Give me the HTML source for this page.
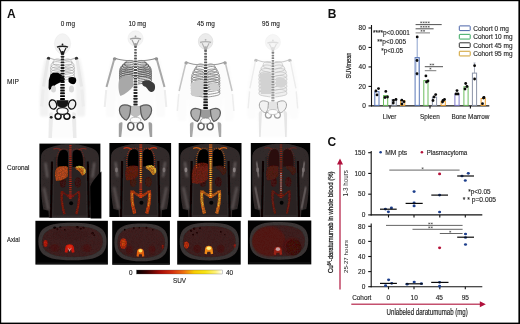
<!DOCTYPE html><html><head><meta charset="utf-8"><style>
html,body{margin:0;padding:0;background:#fff;overflow:hidden;width:520px;height:324px;}
svg{display:block;font-family:"Liberation Sans", sans-serif;will-change:transform;}
</style></head><body>
<svg width="520" height="324" viewBox="0 0 520 324">
<defs>
<filter id="b03" filterUnits="userSpaceOnUse" x="-100" y="-100" width="800" height="600"><feGaussianBlur stdDeviation="0.3"/></filter>
<filter id="b05" filterUnits="userSpaceOnUse" x="-100" y="-100" width="800" height="600"><feGaussianBlur stdDeviation="0.5"/></filter>
<filter id="b08" filterUnits="userSpaceOnUse" x="-100" y="-100" width="800" height="600"><feGaussianBlur stdDeviation="0.8"/></filter>
<filter id="b12" filterUnits="userSpaceOnUse" x="-100" y="-100" width="800" height="600"><feGaussianBlur stdDeviation="1.2"/></filter>
<filter id="b2" filterUnits="userSpaceOnUse" x="-100" y="-100" width="800" height="600"><feGaussianBlur stdDeviation="2"/></filter>
<filter id="ptex" filterUnits="userSpaceOnUse" x="-100" y="-100" width="800" height="600">
<feGaussianBlur in="SourceGraphic" stdDeviation="0.7" result="bl"/>
<feTurbulence type="fractalNoise" baseFrequency="0.7" numOctaves="2" seed="5" result="n"/>
<feColorMatrix in="n" type="matrix" values="0 0 0 0 0  0 0 0 0 0  0 0 0 0 0  2.2 0 0 0 -0.75" result="mask"/>
<feComposite in="bl" in2="mask" operator="in" result="sp"/>
<feComponentTransfer in="bl" result="dim"><feFuncA type="linear" slope="0.6"/></feComponentTransfer>
<feMerge><feMergeNode in="dim"/><feMergeNode in="sp"/></feMerge>
</filter>
<filter id="btex" filterUnits="userSpaceOnUse" x="-100" y="-100" width="800" height="600">
<feGaussianBlur in="SourceGraphic" stdDeviation="0.5" result="bl"/>
<feTurbulence type="fractalNoise" baseFrequency="0.6" numOctaves="2" seed="11" result="n"/>
<feColorMatrix in="n" type="matrix" values="0 0 0 0 0  0 0 0 0 0  0 0 0 0 0  1.2 0 0 0 -0.45" result="mask"/>
<feComposite in="SourceGraphic" in2="mask" operator="in" result="sp0"/>
<feColorMatrix in="sp0" type="matrix" values="0.6 0 0 0 0  0 0.6 0 0 0  0 0 0.6 0 0  0 0 0 0.5 0" result="sp"/>
<feMerge><feMergeNode in="bl"/><feMergeNode in="sp"/></feMerge>
</filter>
<linearGradient id="cb" x1="0" x2="1" y1="0" y2="0">
<stop offset="0" stop-color="#000"/>
<stop offset="0.12" stop-color="#3a0000"/>
<stop offset="0.28" stop-color="#a80c06"/>
<stop offset="0.42" stop-color="#d4300e"/>
<stop offset="0.55" stop-color="#ee7010"/>
<stop offset="0.67" stop-color="#f8cc00"/>
<stop offset="0.8" stop-color="#f8e414"/>
<stop offset="0.92" stop-color="#fff27a"/>
<stop offset="1" stop-color="#ffffff"/>
</linearGradient>
</defs>
<rect x="0" y="0" width="520" height="324" fill="#fff"/>
<text x="6.9" y="17.7" font-size="12" text-anchor="start" font-weight="bold" fill="#111" >A</text>
<text x="67.9" y="26.2" font-size="6.4" text-anchor="middle" font-weight="normal" fill="#222" stroke="#222" stroke-width="0.12" >0 mg</text>
<text x="137.3" y="26.2" font-size="6.4" text-anchor="middle" font-weight="normal" fill="#222" stroke="#222" stroke-width="0.12" >10 mg</text>
<text x="205.9" y="26.2" font-size="6.4" text-anchor="middle" font-weight="normal" fill="#222" stroke="#222" stroke-width="0.12" >45 mg</text>
<text x="271" y="26.2" font-size="6.4" text-anchor="middle" font-weight="normal" fill="#222" stroke="#222" stroke-width="0.12" >95 mg</text>
<text x="7.1" y="84.2" font-size="6.6" text-anchor="start" font-weight="normal" fill="#222" stroke="#222" stroke-width="0.12" >MIP</text>
<text x="7.1" y="169.8" font-size="6.4" text-anchor="start" font-weight="normal" fill="#222" stroke="#222" stroke-width="0.12" >Coronal</text>
<text x="7.1" y="241.9" font-size="6.35" text-anchor="start" font-weight="normal" fill="#222" stroke="#222" stroke-width="0.12" textLength="12.7" lengthAdjust="spacingAndGlyphs">Axial</text>
<g filter="url(#b12)">
<path d="M45.5 57.5 C39.5 78.5 38.5 103.5 40.5 116.5 L48.5 116.5 L51.5 68.5 Z" fill="#f2f2f2"/>
<path d="M79.5 57.5 C85.5 78.5 86.5 103.5 84.5 116.5 L76.5 116.5 L73.5 68.5 Z" fill="#f2f2f2"/>
<path d="M49.5 58.5 L75.5 58.5 L76.5 111.8 L74.5 138 L50.5 138 L48.5 111.8 Z" fill="#fcfcfc"/>
</g>
<g filter="url(#b05)">
<ellipse cx="62.5" cy="43.85" rx="8" ry="10.149999999999999" fill="#f3f3f3" stroke="#ececec" stroke-width="0.7"/>
<rect x="61.3" y="52" width="2.4" height="2" fill="#666"/>
<path d="M61.0 60.0 C57.3 57.8 53.0 59.2 53.0 63.0 C53.0 65.0 56.8 65.5 60.0 66.5" stroke="#999" stroke-width="0.6" fill="none"/>
<path d="M64.0 60.0 C67.7 57.8 72.0 59.2 72.0 63.0 C72.0 65.0 68.2 65.5 65.0 66.5" stroke="#999" stroke-width="0.6" fill="none"/>
<path d="M61.0 62.7 C56.2 60.5 51.0 61.9 51.0 65.7 C51.0 67.7 55.6 68.2 60.0 69.2" stroke="#999" stroke-width="0.6" fill="none"/>
<path d="M64.0 62.7 C68.8 60.5 74.0 61.9 74.0 65.7 C74.0 67.7 69.4 68.2 65.0 69.2" stroke="#999" stroke-width="0.6" fill="none"/>
<path d="M61.0 65.4 C55.9 63.2 50.5 64.6 50.5 68.4 C50.5 70.4 55.3 70.9 60.0 71.9" stroke="#999" stroke-width="0.6" fill="none"/>
<path d="M64.0 65.4 C69.1 63.2 74.5 64.6 74.5 68.4 C74.5 70.4 69.7 70.9 65.0 71.9" stroke="#999" stroke-width="0.6" fill="none"/>
<path d="M61.0 68.1 C55.9 65.9 50.5 67.3 50.5 71.1 C50.5 73.1 55.3 73.6 60.0 74.6" stroke="#999" stroke-width="0.6" fill="none"/>
<path d="M64.0 68.1 C69.1 65.9 74.5 67.3 74.5 71.1 C74.5 73.1 69.7 73.6 65.0 74.6" stroke="#999" stroke-width="0.6" fill="none"/>
<path d="M61.0 70.8 C55.9 68.6 50.5 70.0 50.5 73.8 C50.5 75.8 55.3 76.3 60.0 77.3" stroke="#999" stroke-width="0.6" fill="none"/>
<path d="M64.0 70.8 C69.1 68.6 74.5 70.0 74.5 73.8 C74.5 75.8 69.7 76.3 65.0 77.3" stroke="#999" stroke-width="0.6" fill="none"/>
<path d="M61.0 73.5 C55.9 71.3 50.5 72.7 50.5 76.5 C50.5 78.5 55.3 79.0 60.0 80.0" stroke="#999" stroke-width="0.6" fill="none"/>
<path d="M64.0 73.5 C69.1 71.3 74.5 72.7 74.5 76.5 C74.5 78.5 69.7 79.0 65.0 80.0" stroke="#999" stroke-width="0.6" fill="none"/>
<path d="M50.5 74.5 L53.0 72.8 L58.0 72.8 L61.0 74.5 L64.5 78 L64.5 80.5 L61.0 82 L56.0 84.5 L52.0 88 L49.5 90.3 L48.5 88 L48.8 80 Z" fill="#000"/>
<path d="M68.5 77.8 C70.5 76.6 73.5 76.6 75.5 77.8 C76.7 79.5 76.5 82.5 74.5 84 C72.5 84.5 69.5 83.5 68.5 81.5 Z" fill="#000"/>
<ellipse cx="71.5" cy="89" rx="2.5" ry="3.5" fill="#d8d8d8"/>
<ellipse cx="53.5" cy="89" rx="2.5" ry="3.5" fill="#d8d8d8"/>
<path d="M60.5 60.5 C56.5 60.5 52.5 59.5 48.5 57.5" stroke="#bbb" stroke-width="1.1" fill="none"/>
<circle cx="48.5" cy="58.5" r="1.7" fill="#333"/>
<path d="M64.5 60.5 C68.5 60.5 72.5 59.5 76.5 57.5" stroke="#bbb" stroke-width="1.1" fill="none"/>
<circle cx="76.5" cy="58.5" r="1.7" fill="#333"/>
<path d="M48.0 59.5 L43.5 86.5" stroke="#e8e8e8" stroke-width="3" fill="none"/>
<path d="M43.2 89.5 L41.7 106.5" stroke="#ededed" stroke-width="3" fill="none"/>
<path d="M77.0 59.5 L81.5 86.5" stroke="#e8e8e8" stroke-width="3" fill="none"/>
<path d="M81.8 89.5 L83.3 106.5" stroke="#ededed" stroke-width="3" fill="none"/>
<rect x="60.90" y="53.00" width="3.20" height="1.91" rx="0.4" fill="#2a2a2a"/>
<rect x="60.85" y="55.81" width="3.31" height="1.91" rx="0.4" fill="#282828"/>
<rect x="60.79" y="58.62" width="3.41" height="1.91" rx="0.4" fill="#252525"/>
<rect x="60.74" y="61.44" width="3.52" height="1.91" rx="0.4" fill="#232323"/>
<rect x="60.69" y="64.25" width="3.62" height="1.91" rx="0.4" fill="#202020"/>
<rect x="60.64" y="67.06" width="3.73" height="1.91" rx="0.4" fill="#1e1e1e"/>
<rect x="60.58" y="69.87" width="3.84" height="1.91" rx="0.4" fill="#1b1b1b"/>
<rect x="60.53" y="72.68" width="3.94" height="1.91" rx="0.4" fill="#191919"/>
<rect x="60.48" y="75.49" width="4.05" height="1.91" rx="0.4" fill="#161616"/>
<rect x="60.42" y="78.31" width="4.15" height="1.91" rx="0.4" fill="#141414"/>
<rect x="60.37" y="81.12" width="4.26" height="1.91" rx="0.4" fill="#111111"/>
<rect x="60.32" y="83.93" width="4.36" height="1.91" rx="0.4" fill="#0f0f0f"/>
<rect x="60.26" y="86.74" width="4.47" height="1.91" rx="0.4" fill="#0c0c0c"/>
<rect x="60.21" y="89.55" width="4.58" height="1.91" rx="0.4" fill="#0a0a0a"/>
<rect x="60.16" y="92.36" width="4.68" height="1.91" rx="0.4" fill="#070707"/>
<rect x="60.11" y="95.18" width="4.79" height="1.91" rx="0.4" fill="#050505"/>
<rect x="60.05" y="97.99" width="4.89" height="1.91" rx="0.4" fill="#020202"/>
<rect x="60.00" y="100.80" width="5.00" height="1.91" rx="0.4" fill="#000000"/>
<path d="M56.5 100.3 L68.5 100.3 L67.5 105.9 L62.5 108.3 L57.5 105.9 Z" fill="#141414"/>
<ellipse cx="53.0" cy="104.5" rx="3.6" ry="4.7" transform="rotate(-18 53.0 104.5)" fill="#eeeeee" stroke="#151515" stroke-width="1.4"/>
<ellipse cx="58.1" cy="116.3" rx="3.0" ry="2.9" fill="#fdfdfd" stroke="#151515" stroke-width="1.5"/>
<path d="M52.7 112.8 C51.7 111.8 49.2 112.3 49.0 114.8 L48.45 138 L51.95 138 L52.95 118.3 Z" fill="#ebebeb"/>
<circle cx="51.2" cy="117.3" r="1.4" fill="#222"/>
<ellipse cx="72.0" cy="104.5" rx="3.6" ry="4.7" transform="rotate(18 72.0 104.5)" fill="#eeeeee" stroke="#151515" stroke-width="1.4"/>
<ellipse cx="66.9" cy="116.3" rx="3.0" ry="2.9" fill="#fdfdfd" stroke="#151515" stroke-width="1.5"/>
<path d="M72.3 112.8 C73.3 111.8 75.8 112.3 76.0 114.8 L76.55 138 L73.05 138 L72.05 118.3 Z" fill="#ebebeb"/>
<circle cx="73.8" cy="117.3" r="1.4" fill="#222"/>
<ellipse cx="62.5" cy="111" rx="5.6" ry="3.4" fill="#fdfdfd" stroke="#222" stroke-width="1.2"/>
<circle cx="62.5" cy="44.5" r="0.9" fill="#1a1a1a"/>
<path d="M57.0 47.2 C59.5 46 65.5 46 68.0 47.2" stroke="#1a1a1a" stroke-width="1.4" fill="none"/>
<path d="M59.0 48 L61.0 52 M66.0 48 L64.0 52" stroke="#1a1a1a" stroke-width="1.1" fill="none"/>
<ellipse cx="62.5" cy="52.5" rx="2" ry="1.6" fill="#1a1a1a"/>
</g>
<g filter="url(#b12)">
<path d="M111.5 58 C105.5 79 104.5 104 106.5 117 L114.5 117 L117.5 69 Z" fill="#fbfbfb"/>
<path d="M159.5 58 C165.5 79 166.5 104 164.5 117 L156.5 117 L153.5 69 Z" fill="#fbfbfb"/>
<path d="M115.5 59 L155.5 59 L153.5 117.4 L151.5 137 L119.5 137 L117.5 117.4 Z" fill="#fcfcfc"/>
</g>
<g filter="url(#b05)">
<ellipse cx="135.5" cy="38.4" rx="7.5" ry="7.6" fill="#f4f4f4" stroke="#ececec" stroke-width="0.7"/>
<rect x="134.3" y="44" width="2.4" height="3" fill="#8a8a8a"/>
<path d="M134.0 61.5 C129.5 59.3 124.6 60.7 124.6 64.5 C124.6 66.5 128.9 67.0 133.0 68.0" stroke="#4a4a4a" stroke-width="0.75" fill="none"/>
<path d="M137.0 61.5 C141.5 59.3 146.4 60.7 146.4 64.5 C146.4 66.5 142.1 67.0 138.0 68.0" stroke="#4a4a4a" stroke-width="0.75" fill="none"/>
<path d="M134.0 63.3 C128.3 61.1 122.4 62.5 122.4 66.3 C122.4 68.3 127.6 68.8 133.0 69.8" stroke="#4a4a4a" stroke-width="0.75" fill="none"/>
<path d="M137.0 63.3 C142.7 61.1 148.6 62.5 148.6 66.3 C148.6 68.3 143.4 68.8 138.0 69.8" stroke="#4a4a4a" stroke-width="0.75" fill="none"/>
<path d="M134.0 65.1 C127.4 62.9 120.7 64.3 120.7 68.1 C120.7 70.1 126.6 70.6 133.0 71.6" stroke="#4a4a4a" stroke-width="0.75" fill="none"/>
<path d="M137.0 65.1 C143.6 62.9 150.3 64.3 150.3 68.1 C150.3 70.1 144.4 70.6 138.0 71.6" stroke="#4a4a4a" stroke-width="0.75" fill="none"/>
<path d="M134.0 66.8 C126.8 64.6 119.8 66.0 119.8 69.8 C119.8 71.8 126.1 72.3 133.0 73.3" stroke="#4a4a4a" stroke-width="0.75" fill="none"/>
<path d="M137.0 66.8 C144.2 64.6 151.2 66.0 151.2 69.8 C151.2 71.8 144.9 72.3 138.0 73.3" stroke="#4a4a4a" stroke-width="0.75" fill="none"/>
<path d="M134.0 68.6 C126.7 66.4 119.5 67.8 119.5 71.6 C119.5 73.6 125.9 74.1 133.0 75.1" stroke="#4a4a4a" stroke-width="0.75" fill="none"/>
<path d="M137.0 68.6 C144.3 66.4 151.5 67.8 151.5 71.6 C151.5 73.6 145.1 74.1 138.0 75.1" stroke="#4a4a4a" stroke-width="0.75" fill="none"/>
<path d="M134.0 70.4 C126.7 68.2 119.5 69.6 119.5 73.4 C119.5 75.4 125.9 75.9 133.0 76.9" stroke="#4a4a4a" stroke-width="0.75" fill="none"/>
<path d="M137.0 70.4 C144.3 68.2 151.5 69.6 151.5 73.4 C151.5 75.4 145.1 75.9 138.0 76.9" stroke="#4a4a4a" stroke-width="0.75" fill="none"/>
<path d="M134.0 72.2 C126.7 70.0 119.5 71.4 119.5 75.2 C119.5 77.2 125.9 77.7 133.0 78.7" stroke="#4a4a4a" stroke-width="0.75" fill="none"/>
<path d="M137.0 72.2 C144.3 70.0 151.5 71.4 151.5 75.2 C151.5 77.2 145.1 77.7 138.0 78.7" stroke="#4a4a4a" stroke-width="0.75" fill="none"/>
<path d="M134.0 73.9 C126.7 71.7 119.5 73.1 119.5 76.9 C119.5 78.9 125.9 79.4 133.0 80.4" stroke="#4a4a4a" stroke-width="0.75" fill="none"/>
<path d="M137.0 73.9 C144.3 71.7 151.5 73.1 151.5 76.9 C151.5 78.9 145.1 79.4 138.0 80.4" stroke="#4a4a4a" stroke-width="0.75" fill="none"/>
<path d="M134.0 75.7 C126.7 73.5 119.5 74.9 119.5 78.7 C119.5 80.7 125.9 81.2 133.0 82.2" stroke="#4a4a4a" stroke-width="0.75" fill="none"/>
<path d="M137.0 75.7 C144.3 73.5 151.5 74.9 151.5 78.7 C151.5 80.7 145.1 81.2 138.0 82.2" stroke="#4a4a4a" stroke-width="0.75" fill="none"/>
<path d="M134.0 77.5 C126.7 75.3 119.5 76.7 119.5 80.5 C119.5 82.5 125.9 83.0 133.0 84.0" stroke="#4a4a4a" stroke-width="0.75" fill="none"/>
<path d="M137.0 77.5 C144.3 75.3 151.5 76.7 151.5 80.5 C151.5 82.5 145.1 83.0 138.0 84.0" stroke="#4a4a4a" stroke-width="0.75" fill="none"/>
<path d="M119.0 80 C121.5 76 127.5 74.5 133.0 76.5 L133.5 86 C130.5 90 125.5 94 120.5 96 C118.5 93 118.0 86 119.0 80 Z" fill="#a8a8a8"/>
<path d="M142.5 81.5 C145.5 79 151.5 80 154.5 84 C156.0 88 154.5 92.5 151.0 92 C147.5 91 147.5 87 144.5 86.5 C142.5 86 141.5 83.5 142.5 81.5 Z" fill="#3a3a3a"/>
<path d="M133.5 61 C129.5 61 118.5 60 114.5 58" stroke="#8a8a8a" stroke-width="1.1" fill="none"/>
<circle cx="114.5" cy="59" r="1.7" fill="#909090"/>
<path d="M137.5 61 C141.5 61 152.5 60 156.5 58" stroke="#8a8a8a" stroke-width="1.1" fill="none"/>
<circle cx="156.5" cy="59" r="1.7" fill="#909090"/>
<path d="M114.0 60 L106.5 87" stroke="#a8a8a8" stroke-width="2" fill="none"/>
<path d="M106.2 90 L104.7 107" stroke="#ededed" stroke-width="2" fill="none"/>
<path d="M157.0 60 L164.5 87" stroke="#a8a8a8" stroke-width="2" fill="none"/>
<path d="M164.8 90 L166.3 107" stroke="#ededed" stroke-width="2" fill="none"/>
<rect x="134.30" y="46.00" width="2.40" height="1.98" rx="0.4" fill="#606060"/>
<rect x="134.25" y="48.88" width="2.50" height="1.98" rx="0.4" fill="#5d5d5d"/>
<rect x="134.20" y="51.75" width="2.59" height="1.98" rx="0.4" fill="#595959"/>
<rect x="134.16" y="54.63" width="2.69" height="1.98" rx="0.4" fill="#565656"/>
<rect x="134.11" y="57.50" width="2.78" height="1.98" rx="0.4" fill="#535353"/>
<rect x="134.06" y="60.38" width="2.88" height="1.98" rx="0.4" fill="#4f4f4f"/>
<rect x="134.01" y="63.26" width="2.97" height="1.98" rx="0.4" fill="#4c4c4c"/>
<rect x="133.97" y="66.13" width="3.07" height="1.98" rx="0.4" fill="#494949"/>
<rect x="133.92" y="69.01" width="3.16" height="1.98" rx="0.4" fill="#454545"/>
<rect x="133.87" y="71.89" width="3.26" height="1.98" rx="0.4" fill="#424242"/>
<rect x="133.82" y="74.76" width="3.35" height="1.98" rx="0.4" fill="#3f3f3f"/>
<rect x="133.78" y="77.64" width="3.45" height="1.98" rx="0.4" fill="#3b3b3b"/>
<rect x="133.73" y="80.51" width="3.54" height="1.98" rx="0.4" fill="#383838"/>
<rect x="133.68" y="83.39" width="3.64" height="1.98" rx="0.4" fill="#353535"/>
<rect x="133.63" y="86.27" width="3.73" height="1.98" rx="0.4" fill="#313131"/>
<rect x="133.59" y="89.14" width="3.83" height="1.98" rx="0.4" fill="#2e2e2e"/>
<rect x="133.54" y="92.02" width="3.92" height="1.98" rx="0.4" fill="#2b2b2b"/>
<rect x="133.49" y="94.90" width="4.02" height="1.98" rx="0.4" fill="#272727"/>
<rect x="133.44" y="97.77" width="4.11" height="1.98" rx="0.4" fill="#242424"/>
<rect x="133.40" y="100.65" width="4.21" height="1.98" rx="0.4" fill="#212121"/>
<rect x="133.35" y="103.52" width="4.30" height="1.98" rx="0.4" fill="#1d1d1d"/>
<rect x="133.30" y="106.40" width="4.40" height="1.98" rx="0.4" fill="#1a1a1a"/>
<path d="M129.5 105.9 L141.5 105.9 L140.5 114.5 L135.5 118.0 L130.5 114.5 Z" fill="#bdbdbd"/>
<path d="M130.6 106.4 C125.0 103.9 119.4 104.4 119.4 110.3 C119.4 115.2 124.0 119.4 126.5 120.1 C130.6 116.6 130.1 112.4 130.6 106.4 Z" fill="#a6a6a6" stroke="#5a5a5a" stroke-width="1.2"/>
<ellipse cx="130.8" cy="126.3" rx="3.0" ry="3.8" fill="#fdfdfd" stroke="#5a5a5a" stroke-width="1.6"/>
<path d="M122.5 122.8 C121.5 121.8 119.0 122.3 118.8 124.8 L118.8 137 L121.2 137 L122.2 128.3 Z" fill="#a0a0a0"/>
<path d="M140.4 106.4 C146.0 103.9 151.6 104.4 151.6 110.3 C151.6 115.2 147.0 119.4 144.5 120.1 C140.4 116.6 140.9 112.4 140.4 106.4 Z" fill="#a6a6a6" stroke="#5a5a5a" stroke-width="1.2"/>
<ellipse cx="140.2" cy="126.3" rx="3.0" ry="3.8" fill="#fdfdfd" stroke="#5a5a5a" stroke-width="1.6"/>
<path d="M148.5 122.8 C149.5 121.8 152.0 122.3 152.2 124.8 L152.2 137 L149.8 137 L148.8 128.3 Z" fill="#a0a0a0"/>
<ellipse cx="135.5" cy="120" rx="5.5" ry="2.8" fill="#fdfdfd" stroke="#aaa" stroke-width="0.8"/>
<circle cx="135.5" cy="36.5" r="0.9" fill="#a0a0a0"/>
<path d="M130.0 39.2 C132.5 38 138.5 38 141.0 39.2" stroke="#a0a0a0" stroke-width="1.4" fill="none"/>
<path d="M132.0 40 L134.0 44 M139.0 40 L137.0 44" stroke="#a0a0a0" stroke-width="1.1" fill="none"/>
<ellipse cx="135.5" cy="44.5" rx="2" ry="1.6" fill="#a0a0a0"/>
</g>
<g filter="url(#b12)">
<path d="M183.1 62 C177.1 83 176.1 108 178.1 121 L186.1 121 L189.1 73 Z" fill="#fcfcfc"/>
<path d="M228.1 62 C234.1 83 235.1 108 233.1 121 L225.1 121 L222.1 73 Z" fill="#fcfcfc"/>
<path d="M187.1 63 L224.1 63 L221.9 120.9 L219.9 137 L191.29999999999998 137 L189.29999999999998 120.9 Z" fill="#fcfcfc"/>
</g>
<g filter="url(#b05)">
<ellipse cx="205.6" cy="41.45" rx="7.2" ry="7.849999999999998" fill="#ebebeb" stroke="#dcdcdc" stroke-width="0.7"/>
<rect x="204.4" y="47.3" width="2.4" height="3.700000000000003" fill="#8a8a8a"/>
<path d="M204.1 65.0 C200.3 62.8 196.0 64.2 196.0 68.0 C196.0 70.0 199.9 70.5 203.1 71.5" stroke="#6a6a6a" stroke-width="0.7" fill="none"/>
<path d="M207.1 65.0 C210.9 62.8 215.2 64.2 215.2 68.0 C215.2 70.0 211.3 70.5 208.1 71.5" stroke="#6a6a6a" stroke-width="0.7" fill="none"/>
<path d="M204.1 67.5 C199.4 65.3 194.2 66.8 194.2 70.5 C194.2 72.5 198.8 73.0 203.1 74.0" stroke="#6a6a6a" stroke-width="0.7" fill="none"/>
<path d="M207.1 67.5 C211.8 65.3 217.0 66.8 217.0 70.5 C217.0 72.5 212.4 73.0 208.1 74.0" stroke="#6a6a6a" stroke-width="0.7" fill="none"/>
<path d="M204.1 70.1 C198.6 67.9 192.8 69.3 192.8 73.1 C192.8 75.1 197.9 75.6 203.1 76.6" stroke="#6a6a6a" stroke-width="0.7" fill="none"/>
<path d="M207.1 70.1 C212.6 67.9 218.4 69.3 218.4 73.1 C218.4 75.1 213.3 75.6 208.1 76.6" stroke="#6a6a6a" stroke-width="0.7" fill="none"/>
<path d="M204.1 72.7 C198.0 70.5 191.8 71.9 191.8 75.7 C191.8 77.7 197.3 78.2 203.1 79.2" stroke="#6a6a6a" stroke-width="0.7" fill="none"/>
<path d="M207.1 72.7 C213.2 70.5 219.4 71.9 219.4 75.7 C219.4 77.7 213.9 78.2 208.1 79.2" stroke="#6a6a6a" stroke-width="0.7" fill="none"/>
<path d="M204.1 75.2 C197.7 73.0 191.3 74.4 191.3 78.2 C191.3 80.2 197.0 80.7 203.1 81.7" stroke="#6a6a6a" stroke-width="0.7" fill="none"/>
<path d="M207.1 75.2 C213.5 73.0 219.9 74.4 219.9 78.2 C219.9 80.2 214.2 80.7 208.1 81.7" stroke="#6a6a6a" stroke-width="0.7" fill="none"/>
<path d="M204.1 77.8 C197.7 75.5 191.3 77.0 191.3 80.8 C191.3 82.8 197.0 83.2 203.1 84.2" stroke="#6a6a6a" stroke-width="0.7" fill="none"/>
<path d="M207.1 77.8 C213.5 75.5 219.9 77.0 219.9 80.8 C219.9 82.8 214.2 83.2 208.1 84.2" stroke="#6a6a6a" stroke-width="0.7" fill="none"/>
<path d="M204.1 80.3 C197.7 78.1 191.3 79.5 191.3 83.3 C191.3 85.3 197.0 85.8 203.1 86.8" stroke="#6a6a6a" stroke-width="0.7" fill="none"/>
<path d="M207.1 80.3 C213.5 78.1 219.9 79.5 219.9 83.3 C219.9 85.3 214.2 85.8 208.1 86.8" stroke="#6a6a6a" stroke-width="0.7" fill="none"/>
<path d="M204.1 82.8 C197.7 80.6 191.3 82.0 191.3 85.8 C191.3 87.8 197.0 88.3 203.1 89.3" stroke="#6a6a6a" stroke-width="0.7" fill="none"/>
<path d="M207.1 82.8 C213.5 80.6 219.9 82.0 219.9 85.8 C219.9 87.8 214.2 88.3 208.1 89.3" stroke="#6a6a6a" stroke-width="0.7" fill="none"/>
<path d="M204.1 85.4 C197.7 83.2 191.3 84.6 191.3 88.4 C191.3 90.4 197.0 90.9 203.1 91.9" stroke="#6a6a6a" stroke-width="0.7" fill="none"/>
<path d="M207.1 85.4 C213.5 83.2 219.9 84.6 219.9 88.4 C219.9 90.4 214.2 90.9 208.1 91.9" stroke="#6a6a6a" stroke-width="0.7" fill="none"/>
<path d="M204.1 88.0 C197.7 85.8 191.3 87.2 191.3 91.0 C191.3 93.0 197.0 93.5 203.1 94.5" stroke="#6a6a6a" stroke-width="0.7" fill="none"/>
<path d="M207.1 88.0 C213.5 85.8 219.9 87.2 219.9 91.0 C219.9 93.0 214.2 93.5 208.1 94.5" stroke="#6a6a6a" stroke-width="0.7" fill="none"/>
<path d="M204.1 90.5 C197.7 88.3 191.3 89.7 191.3 93.5 C191.3 95.5 197.0 96.0 203.1 97.0" stroke="#6a6a6a" stroke-width="0.7" fill="none"/>
<path d="M207.1 90.5 C213.5 88.3 219.9 89.7 219.9 93.5 C219.9 95.5 214.2 96.0 208.1 97.0" stroke="#6a6a6a" stroke-width="0.7" fill="none"/>
<path d="M190.6 84 C194.6 80 200.6 79.5 203.6 81 L203.6 95 C199.6 97 194.6 97 191.1 95 Z" fill="#cdcdcd"/>
<path d="M209.6 84 C213.6 82 218.6 83 219.6 88 C218.6 92 213.6 92 209.6 89 Z" fill="#d0d0d0"/>
<path d="M203.6 65 C199.6 65 190.1 64 186.1 62" stroke="#999" stroke-width="1.1" fill="none"/>
<circle cx="186.1" cy="63" r="1.7" fill="#a0a0a0"/>
<path d="M207.6 65 C211.6 65 221.1 64 225.1 62" stroke="#999" stroke-width="1.1" fill="none"/>
<circle cx="225.1" cy="63" r="1.7" fill="#a0a0a0"/>
<path d="M185.6 64 L179.1 91" stroke="#c4c4c4" stroke-width="1.5" fill="none"/>
<path d="M178.79999999999998 94 L177.29999999999998 111" stroke="#ededed" stroke-width="1.5" fill="none"/>
<path d="M225.6 64 L232.1 91" stroke="#c4c4c4" stroke-width="1.5" fill="none"/>
<path d="M232.4 94 L233.9 111" stroke="#ededed" stroke-width="1.5" fill="none"/>
<rect x="204.30" y="50.00" width="2.60" height="1.96" rx="0.4" fill="#6a6a6a"/>
<rect x="204.25" y="52.85" width="2.70" height="1.96" rx="0.4" fill="#656565"/>
<rect x="204.20" y="55.70" width="2.81" height="1.96" rx="0.4" fill="#616161"/>
<rect x="204.14" y="58.56" width="2.91" height="1.96" rx="0.4" fill="#5c5c5c"/>
<rect x="204.09" y="61.41" width="3.02" height="1.96" rx="0.4" fill="#585858"/>
<rect x="204.04" y="64.26" width="3.12" height="1.96" rx="0.4" fill="#535353"/>
<rect x="203.99" y="67.11" width="3.23" height="1.96" rx="0.4" fill="#4f4f4f"/>
<rect x="203.93" y="69.97" width="3.33" height="1.96" rx="0.4" fill="#4a4a4a"/>
<rect x="203.88" y="72.82" width="3.44" height="1.96" rx="0.4" fill="#454545"/>
<rect x="203.83" y="75.67" width="3.54" height="1.96" rx="0.4" fill="#414141"/>
<rect x="203.78" y="78.52" width="3.65" height="1.96" rx="0.4" fill="#3c3c3c"/>
<rect x="203.72" y="81.38" width="3.75" height="1.96" rx="0.4" fill="#383838"/>
<rect x="203.67" y="84.23" width="3.86" height="1.96" rx="0.4" fill="#333333"/>
<rect x="203.62" y="87.08" width="3.96" height="1.96" rx="0.4" fill="#2f2f2f"/>
<rect x="203.57" y="89.93" width="4.07" height="1.96" rx="0.4" fill="#2a2a2a"/>
<rect x="203.51" y="92.79" width="4.17" height="1.96" rx="0.4" fill="#252525"/>
<rect x="203.46" y="95.64" width="4.28" height="1.96" rx="0.4" fill="#212121"/>
<rect x="203.41" y="98.49" width="4.38" height="1.96" rx="0.4" fill="#1c1c1c"/>
<rect x="203.36" y="101.34" width="4.49" height="1.96" rx="0.4" fill="#181818"/>
<rect x="203.30" y="104.20" width="4.59" height="1.96" rx="0.4" fill="#131313"/>
<rect x="203.25" y="107.05" width="4.70" height="1.96" rx="0.4" fill="#0f0f0f"/>
<rect x="203.20" y="109.90" width="4.80" height="1.96" rx="0.4" fill="#0a0a0a"/>
<path d="M199.6 109.4 L211.6 109.4 L210.6 116.7 L205.6 119.7 L200.6 116.7 Z" fill="#9a9a9a"/>
<path d="M200.79999999999998 109.9 C195.79999999999998 107.4 190.79999999999998 107.9 190.79999999999998 113.1 C190.79999999999998 117.3 194.79999999999998 120.9 197.29999999999998 121.5 C200.79999999999998 118.5 200.29999999999998 114.9 200.79999999999998 109.9 Z" fill="#b0b0b0" stroke="#5a5a5a" stroke-width="1.2"/>
<ellipse cx="201.1" cy="126.3" rx="3.0" ry="3.4" fill="#fdfdfd" stroke="#5a5a5a" stroke-width="1.5"/>
<path d="M193.6 122.8 C192.6 121.8 190.1 122.3 189.9 124.8 L190.0 137 L192.2 137 L193.2 128.3 Z" fill="#a8a8a8"/>
<path d="M210.4 109.9 C215.4 107.4 220.4 107.9 220.4 113.1 C220.4 117.3 216.4 120.9 213.9 121.5 C210.4 118.5 210.9 114.9 210.4 109.9 Z" fill="#b0b0b0" stroke="#5a5a5a" stroke-width="1.2"/>
<ellipse cx="210.1" cy="126.3" rx="3.0" ry="3.4" fill="#fdfdfd" stroke="#5a5a5a" stroke-width="1.5"/>
<path d="M217.6 122.8 C218.6 121.8 221.1 122.3 221.29999999999998 124.8 L221.2 137 L219.0 137 L218.0 128.3 Z" fill="#a8a8a8"/>
<ellipse cx="205.6" cy="121" rx="5" ry="3" fill="#fdfdfd" stroke="#888" stroke-width="0.8"/>
<circle cx="205.6" cy="39.8" r="0.9" fill="#b0b0b0"/>
<path d="M200.1 42.5 C202.6 41.3 208.6 41.3 211.1 42.5" stroke="#b0b0b0" stroke-width="1.4" fill="none"/>
<path d="M202.1 43.3 L204.1 47.3 M209.1 43.3 L207.1 47.3" stroke="#b0b0b0" stroke-width="1.1" fill="none"/>
<ellipse cx="205.6" cy="47.8" rx="2" ry="1.6" fill="#b0b0b0"/>
</g>
<g filter="url(#b12)">
<path d="M252.89999999999998 59.4 C246.89999999999998 80.4 245.89999999999998 105.4 247.89999999999998 118.4 L255.89999999999998 118.4 L258.9 70.4 Z" fill="#fcfcfc"/>
<path d="M292.9 59.4 C298.9 80.4 299.9 105.4 297.9 118.4 L289.9 118.4 L286.9 70.4 Z" fill="#fcfcfc"/>
<path d="M256.9 60.4 L288.9 60.4 L288.9 113.3 L286.9 137 L258.9 137 L256.9 113.3 Z" fill="#fcfcfc"/>
</g>
<g filter="url(#b05)">
<ellipse cx="272.9" cy="42.25" rx="7.5" ry="7.75" fill="#f6f6f6" stroke="#f0f0f0" stroke-width="0.7"/>
<rect x="271.7" y="48" width="2.4" height="5" fill="#ccc"/>
<path d="M270.9 62 C263.9 62 258.9 68 258.4 76 L258.9 95 C266.9 98 278.9 98 286.9 95 L287.4 76 C286.9 68 281.9 62 274.9 62 Z" fill="#efefef"/>
<path d="M271.4 62.5 C267.5 60.3 263.1 61.7 263.1 65.5 C263.1 67.5 267.0 68.0 270.4 69.0" stroke="#bababa" stroke-width="0.6" fill="none"/>
<path d="M274.4 62.5 C278.3 60.3 282.7 61.7 282.7 65.5 C282.7 67.5 278.8 68.0 275.4 69.0" stroke="#bababa" stroke-width="0.6" fill="none"/>
<path d="M271.4 66.0 C266.4 63.8 261.0 65.2 261.0 69.0 C261.0 71.0 265.8 71.5 270.4 72.5" stroke="#bababa" stroke-width="0.6" fill="none"/>
<path d="M274.4 66.0 C279.4 63.8 284.8 65.2 284.8 69.0 C284.8 71.0 280.0 71.5 275.4 72.5" stroke="#bababa" stroke-width="0.6" fill="none"/>
<path d="M271.4 69.5 C265.6 67.3 259.6 68.7 259.6 72.5 C259.6 74.5 264.9 75.0 270.4 76.0" stroke="#bababa" stroke-width="0.6" fill="none"/>
<path d="M274.4 69.5 C280.2 67.3 286.2 68.7 286.2 72.5 C286.2 74.5 280.9 75.0 275.4 76.0" stroke="#bababa" stroke-width="0.6" fill="none"/>
<path d="M271.4 73.0 C265.2 70.8 258.9 72.2 258.9 76.0 C258.9 78.0 264.5 78.5 270.4 79.5" stroke="#bababa" stroke-width="0.6" fill="none"/>
<path d="M274.4 73.0 C280.6 70.8 286.9 72.2 286.9 76.0 C286.9 78.0 281.3 78.5 275.4 79.5" stroke="#bababa" stroke-width="0.6" fill="none"/>
<path d="M271.4 76.5 C265.2 74.3 258.9 75.7 258.9 79.5 C258.9 81.5 264.5 82.0 270.4 83.0" stroke="#bababa" stroke-width="0.6" fill="none"/>
<path d="M274.4 76.5 C280.6 74.3 286.9 75.7 286.9 79.5 C286.9 81.5 281.3 82.0 275.4 83.0" stroke="#bababa" stroke-width="0.6" fill="none"/>
<path d="M271.4 80.0 C265.2 77.8 258.9 79.2 258.9 83.0 C258.9 85.0 264.5 85.5 270.4 86.5" stroke="#bababa" stroke-width="0.6" fill="none"/>
<path d="M274.4 80.0 C280.6 77.8 286.9 79.2 286.9 83.0 C286.9 85.0 281.3 85.5 275.4 86.5" stroke="#bababa" stroke-width="0.6" fill="none"/>
<path d="M271.4 83.5 C265.2 81.3 258.9 82.7 258.9 86.5 C258.9 88.5 264.5 89.0 270.4 90.0" stroke="#bababa" stroke-width="0.6" fill="none"/>
<path d="M274.4 83.5 C280.6 81.3 286.9 82.7 286.9 86.5 C286.9 88.5 281.3 89.0 275.4 90.0" stroke="#bababa" stroke-width="0.6" fill="none"/>
<path d="M271.4 87.0 C265.2 84.8 258.9 86.2 258.9 90.0 C258.9 92.0 264.5 92.5 270.4 93.5" stroke="#bababa" stroke-width="0.6" fill="none"/>
<path d="M274.4 87.0 C280.6 84.8 286.9 86.2 286.9 90.0 C286.9 92.0 281.3 92.5 275.4 93.5" stroke="#bababa" stroke-width="0.6" fill="none"/>
<path d="M271.4 90.5 C265.2 88.3 258.9 89.7 258.9 93.5 C258.9 95.5 264.5 96.0 270.4 97.0" stroke="#bababa" stroke-width="0.6" fill="none"/>
<path d="M274.4 90.5 C280.6 88.3 286.9 89.7 286.9 93.5 C286.9 95.5 281.3 96.0 275.4 97.0" stroke="#bababa" stroke-width="0.6" fill="none"/>
<path d="M259.9 74 C264.9 72 268.9 72.5 271.4 74 L271.4 94 L260.9 94 Z" fill="#d2d2d2"/>
<path d="M275.9 78 C279.9 76 284.9 77 286.4 82 C285.9 88 280.9 89 275.9 86 Z" fill="#d4d4d4"/>
<path d="M270.9 62.4 C266.9 62.4 259.9 61.4 255.89999999999998 59.4" stroke="#cacaca" stroke-width="1.1" fill="none"/>
<circle cx="255.89999999999998" cy="60.4" r="1.7" fill="#c0c0c0"/>
<path d="M274.9 62.4 C278.9 62.4 285.9 61.4 289.9 59.4" stroke="#cacaca" stroke-width="1.1" fill="none"/>
<circle cx="289.9" cy="60.4" r="1.7" fill="#c0c0c0"/>
<path d="M255.39999999999998 61.4 L249.89999999999998 88.4" stroke="#ececec" stroke-width="1.4" fill="none"/>
<path d="M249.59999999999997 91.4 L248.09999999999997 108.4" stroke="#ededed" stroke-width="1.4" fill="none"/>
<path d="M290.4 61.4 L295.9 88.4" stroke="#ececec" stroke-width="1.4" fill="none"/>
<path d="M296.2 91.4 L297.7 108.4" stroke="#ededed" stroke-width="1.4" fill="none"/>
<rect x="271.70" y="52.00" width="2.40" height="1.81" rx="0.4" fill="#808080"/>
<rect x="271.68" y="54.65" width="2.44" height="1.81" rx="0.4" fill="#828282"/>
<rect x="271.66" y="57.29" width="2.48" height="1.81" rx="0.4" fill="#838383"/>
<rect x="271.64" y="59.94" width="2.53" height="1.81" rx="0.4" fill="#858585"/>
<rect x="271.62" y="62.59" width="2.57" height="1.81" rx="0.4" fill="#878787"/>
<rect x="271.59" y="65.24" width="2.61" height="1.81" rx="0.4" fill="#888888"/>
<rect x="271.57" y="67.88" width="2.65" height="1.81" rx="0.4" fill="#8a8a8a"/>
<rect x="271.55" y="70.53" width="2.69" height="1.81" rx="0.4" fill="#8c8c8c"/>
<rect x="271.53" y="73.18" width="2.74" height="1.81" rx="0.4" fill="#8d8d8d"/>
<rect x="271.51" y="75.83" width="2.78" height="1.81" rx="0.4" fill="#8f8f8f"/>
<rect x="271.49" y="78.47" width="2.82" height="1.81" rx="0.4" fill="#919191"/>
<rect x="271.47" y="81.12" width="2.86" height="1.81" rx="0.4" fill="#939393"/>
<rect x="271.45" y="83.77" width="2.91" height="1.81" rx="0.4" fill="#949494"/>
<rect x="271.43" y="86.42" width="2.95" height="1.81" rx="0.4" fill="#969696"/>
<rect x="271.41" y="89.06" width="2.99" height="1.81" rx="0.4" fill="#989898"/>
<rect x="271.38" y="91.71" width="3.03" height="1.81" rx="0.4" fill="#999999"/>
<rect x="271.36" y="94.36" width="3.07" height="1.81" rx="0.4" fill="#9b9b9b"/>
<rect x="271.34" y="97.01" width="3.12" height="1.81" rx="0.4" fill="#9d9d9d"/>
<rect x="271.32" y="99.65" width="3.16" height="1.81" rx="0.4" fill="#9e9e9e"/>
<rect x="271.30" y="102.30" width="3.20" height="1.81" rx="0.4" fill="#a0a0a0"/>
<path d="M266.9 101.8 L278.9 101.8 L277.9 108.5 L272.9 111.2 L267.9 108.5 Z" fill="#e4e4e4"/>
<path d="M268.5 102.3 C263.9 99.8 259.29999999999995 100.3 259.29999999999995 105.1 C259.29999999999995 109.0 262.9 112.3 265.4 112.8 C268.5 110.1 268.0 106.8 268.5 102.3 Z" fill="#f2f2f2" stroke="#a0a0a0" stroke-width="1.0"/>
<ellipse cx="268.4" cy="115.1" rx="3" ry="3" fill="#fdfdfd" stroke="#a0a0a0" stroke-width="1.2"/>
<path d="M262.4 111.6 C261.4 110.6 258.9 111.1 258.7 113.6 L259.09999999999997 137 L260.7 137 L261.7 117.1 Z" fill="#e6e6e6"/>
<path d="M277.29999999999995 102.3 C281.9 99.8 286.5 100.3 286.5 105.1 C286.5 109.0 282.9 112.3 280.4 112.8 C277.29999999999995 110.1 277.79999999999995 106.8 277.29999999999995 102.3 Z" fill="#f2f2f2" stroke="#a0a0a0" stroke-width="1.0"/>
<ellipse cx="277.4" cy="115.1" rx="3" ry="3" fill="#fdfdfd" stroke="#a0a0a0" stroke-width="1.2"/>
<path d="M283.4 111.6 C284.4 110.6 286.9 111.1 287.09999999999997 113.6 L286.7 137 L285.09999999999997 137 L284.09999999999997 117.1 Z" fill="#e6e6e6"/>
<ellipse cx="272.9" cy="112" rx="5" ry="2.5" fill="#fdfdfd" stroke="#bbb" stroke-width="0.8"/>
<circle cx="272.9" cy="40.5" r="0.9" fill="#ddd"/>
<path d="M267.4 43.2 C269.9 42 275.9 42 278.4 43.2" stroke="#ddd" stroke-width="1.4" fill="none"/>
<path d="M269.4 44 L271.4 48 M276.4 44 L274.4 48" stroke="#ddd" stroke-width="1.1" fill="none"/>
<ellipse cx="272.9" cy="48.5" rx="2" ry="1.6" fill="#ddd"/>
</g>
<g transform="translate(39.4,143.6) scale(1.0000,1.0000)">
<rect x="0" y="0" width="61" height="74" fill="#030303"/>
<g filter="url(#btex)">
<path d="M22 1 C26 0.5 35 0.5 39 1 C43 2.2 48 2.8 52 4.5 C57 6.5 59.6 9.5 59.6 15 L59.6 40 C59.5 50 58.5 58 57 66 L52 67 L51.5 74 L9.5 74 L9 67 L4 66 C2.5 58 1.5 50 1.5 40 L1.5 15 C1.5 9.5 4 6.5 9 4.5 C13 2.8 18 2.2 22 1 Z" fill="#322c2c"/>
<path d="M15 14 C20 11 41 11 46 14 L47 72 L14 72 Z" fill="#2a2424"/>
<path d="M12.6 18 C12.3 35 12 50 11.5 74" stroke="#070505" stroke-width="2.2" fill="none"/>
<path d="M48.4 18 C48.7 35 49 50 49.5 74" stroke="#070505" stroke-width="2.2" fill="none"/>
</g>
<g filter="url(#b08)">
<path d="M6 19 L8 34" stroke="#6e6666" stroke-width="1.8" fill="none"/>
<path d="M55 19 L53 34" stroke="#6e6666" stroke-width="1.8" fill="none"/>
<path d="M4.5 44 L9 66" stroke="#5e5656" stroke-width="2.2" fill="none"/>
<path d="M56.5 44 L52 66" stroke="#5e5656" stroke-width="2.2" fill="none"/>
</g>
<path d="M62 28 L59.6 30 C56 35 52.5 38 50.8 43 L51.2 75 L62 75 Z" fill="#030303" filter="url(#b05)"/>
<g filter="url(#b05)">
<path d="M18.5 24 C18 17 18.5 10 21.5 7 C24.5 5.3 28.6 6.5 28.6 10 L28.6 23.5 C25 22.5 22 22.8 18.5 24 Z" fill="#060303"/>
<path d="M43.5 24 C44 17 43.5 10 40.5 7 C37.5 5.3 33.2 6.5 33.2 10 L33.2 23.5 C37 22.5 40 22.8 43.5 24 Z" fill="#060303"/>
</g>
<g filter="url(#ptex)">
<ellipse cx="23.5" cy="39" rx="3.2" ry="5" fill="#3a1612"/>
<ellipse cx="38.5" cy="39" rx="3.2" ry="5" fill="#3a1612"/>
<path d="M16.5 37 C15 31 15.5 25.5 19 23.2 C22 22 26 22.3 28.4 23.5 L28.4 33 C25 36 20 38 16.5 37 Z" fill="#d0501a"/>
<path d="M35.5 24 C38.5 21.8 44 22 46 25.5 C47 29 45.5 32 42.5 32 C41.5 30 40.5 27.5 38 26.5 C37 26 36 25.3 35.5 24 Z" fill="#e06a18"/>
<path d="M37 23.6 C39.5 22.6 43.5 22.8 45 25.8 C45.6 27.5 45.3 29 44.5 30" stroke="#f8d848" stroke-width="1.7" fill="none"/>
<path d="M22.5 47.5 C21.5 55 23 63 25 70.5 M39.5 47.5 C40.5 55 39 63 37 70.5" stroke="#8a1a0c" stroke-width="2.2" fill="none"/>
<path d="M23 48 C26 51.5 28.5 52.5 31 52.5 C33.5 52.5 36 51.5 39 48" stroke="#8a1a0c" stroke-width="1.54" fill="none" opacity="0.8"/>
<ellipse cx="31" cy="52.3" rx="3.8" ry="1.6" fill="#8a1a0c" opacity="0.9"/>
</g>
<line x1="31" y1="1.5" x2="31" y2="56" stroke="#b42414" stroke-width="2.4" stroke-dasharray="1.1 1.0" filter="url(#b05)"/>
<path d="M17.5 25 C16.5 17 17.5 10 20.5 6.5 C23.5 4.5 27 5 29 7 M44.5 25 C45.5 17 44.5 10 41.5 6.5 C38.5 4.5 35 5 33 7" stroke="#b42414" stroke-width="1.1" stroke-dasharray="0.8 1.2" fill="none" opacity="0.5" filter="url(#b03)"/>
<path d="M14 5.5 C17 4 20 5 22 6.5 M47 5.5 C44 4 41 5 39 6.5" stroke="#b42414" stroke-width="1.2" fill="none" opacity="0.5" filter="url(#b05)"/>
<circle cx="31.7" cy="59.7" r="2" fill="#000" filter="url(#b03)"/>
</g>
<g transform="translate(109.4,143) scale(1.0115,1.0000)">
<rect x="0" y="0" width="61" height="74" fill="#030303"/>
<g filter="url(#btex)">
<path d="M22 1 C26 0.5 35 0.5 39 1 C43 2.2 48 2.8 52 4.5 C57 6.5 59.6 9.5 59.6 15 L59.6 40 C59.5 50 58.5 58 57 66 L52 67 L51.5 74 L9.5 74 L9 67 L4 66 C2.5 58 1.5 50 1.5 40 L1.5 15 C1.5 9.5 4 6.5 9 4.5 C13 2.8 18 2.2 22 1 Z" fill="#322c2c"/>
<path d="M15 14 C20 11 41 11 46 14 L47 72 L14 72 Z" fill="#2a2424"/>
<path d="M12.6 18 C12.3 35 12 50 11.5 74" stroke="#070505" stroke-width="2.2" fill="none"/>
<path d="M48.4 18 C48.7 35 49 50 49.5 74" stroke="#070505" stroke-width="2.2" fill="none"/>
</g>
<g filter="url(#b08)">
<path d="M6 19 L8 34" stroke="#6e6666" stroke-width="1.8" fill="none"/>
<path d="M55 19 L53 34" stroke="#6e6666" stroke-width="1.8" fill="none"/>
<path d="M4.5 44 L9 66" stroke="#5e5656" stroke-width="2.2" fill="none"/>
<path d="M56.5 44 L52 66" stroke="#5e5656" stroke-width="2.2" fill="none"/>
</g>
<g fill="#7a7272" filter="url(#b05)"><ellipse cx="7" cy="27" rx="1.4" ry="2.4"/><ellipse cx="54" cy="27" rx="1.4" ry="2.4"/></g>
<g filter="url(#b05)">
<path d="M18.5 24 C18 17 18.5 10 21.5 7 C24.5 5.3 28.6 6.5 28.6 10 L28.6 23.5 C25 22.5 22 22.8 18.5 24 Z" fill="#060303"/>
<path d="M43.5 24 C44 17 43.5 10 40.5 7 C37.5 5.3 33.2 6.5 33.2 10 L33.2 23.5 C37 22.5 40 22.8 43.5 24 Z" fill="#060303"/>
</g>
<g filter="url(#ptex)">
<ellipse cx="23.5" cy="39" rx="3.2" ry="5" fill="#4a1a12"/>
<ellipse cx="38.5" cy="39" rx="3.2" ry="5" fill="#4a1a12"/>
<path d="M16.5 37 C15 31 15.5 25.5 19 23.2 C22 22 26 22.3 28.4 23.5 L28.4 33 C25 36 20 38 16.5 37 Z" fill="#6e1c10"/>
<path d="M35.5 24 C38.5 21.8 44 22 46 25.5 C47 29 45.5 32 42.5 32 C41.5 30 40.5 27.5 38 26.5 C37 26 36 25.3 35.5 24 Z" fill="#e89020"/>
<path d="M37 23.6 C39.5 22.6 43.5 22.8 45 25.8 C45.6 27.5 45.3 29 44.5 30" stroke="#fcd040" stroke-width="1.7" fill="none"/>
<path d="M22.5 47.5 C21.5 55 23 63 25 70.5 M39.5 47.5 C40.5 55 39 63 37 70.5" stroke="#d8400e" stroke-width="3.2" fill="none"/>
<path d="M23 48 C26 51.5 28.5 52.5 31 52.5 C33.5 52.5 36 51.5 39 48" stroke="#d8400e" stroke-width="2.24" fill="none" opacity="0.8"/>
<ellipse cx="31" cy="52.3" rx="3.8" ry="1.6" fill="#d8400e" opacity="0.9"/>
<path d="M22.3 50 C21.8 55 22.8 60 23.6 63 M39.7 50 C40.2 55 39.2 60 38.4 63" stroke="#f08a20" stroke-width="1.44" fill="none"/>
</g>
<line x1="31" y1="1.5" x2="31" y2="56" stroke="#d83410" stroke-width="2.8" stroke-dasharray="1.1 1.0" filter="url(#b05)"/>
<line x1="31" y1="10" x2="31" y2="40" stroke="#f0b030" stroke-width="1.4" stroke-dasharray="1.1 1.0" filter="url(#b05)"/>
<path d="M17.5 25 C16.5 17 17.5 10 20.5 6.5 C23.5 4.5 27 5 29 7 M44.5 25 C45.5 17 44.5 10 41.5 6.5 C38.5 4.5 35 5 33 7" stroke="#d83410" stroke-width="1.1" stroke-dasharray="0.8 1.2" fill="none" opacity="0.8" filter="url(#b03)"/>
<path d="M14 5.5 C17 4 20 5 22 6.5 M47 5.5 C44 4 41 5 39 6.5" stroke="#d83410" stroke-width="1.2" fill="none" opacity="0.9" filter="url(#b05)"/>
<circle cx="31.7" cy="59.7" r="2" fill="#000" filter="url(#b03)"/>
</g>
<g transform="translate(178.7,143) scale(1.0295,1.0000)">
<rect x="0" y="0" width="61" height="74" fill="#030303"/>
<g filter="url(#btex)">
<path d="M22 1 C26 0.5 35 0.5 39 1 C43 2.2 48 2.8 52 4.5 C57 6.5 59.6 9.5 59.6 15 L59.6 40 C59.5 50 58.5 58 57 66 L52 67 L51.5 74 L9.5 74 L9 67 L4 66 C2.5 58 1.5 50 1.5 40 L1.5 15 C1.5 9.5 4 6.5 9 4.5 C13 2.8 18 2.2 22 1 Z" fill="#322c2c"/>
<path d="M15 14 C20 11 41 11 46 14 L47 72 L14 72 Z" fill="#2a2424"/>
<path d="M12.6 18 C12.3 35 12 50 11.5 74" stroke="#070505" stroke-width="2.2" fill="none"/>
<path d="M48.4 18 C48.7 35 49 50 49.5 74" stroke="#070505" stroke-width="2.2" fill="none"/>
</g>
<g filter="url(#b08)">
<path d="M6 19 L8 34" stroke="#6e6666" stroke-width="1.8" fill="none"/>
<path d="M55 19 L53 34" stroke="#6e6666" stroke-width="1.8" fill="none"/>
<path d="M4.5 44 L9 66" stroke="#5e5656" stroke-width="2.2" fill="none"/>
<path d="M56.5 44 L52 66" stroke="#5e5656" stroke-width="2.2" fill="none"/>
</g>
<g fill="#8a8282" filter="url(#b05)"><ellipse cx="7" cy="27" rx="1.4" ry="2.4"/><ellipse cx="54" cy="27" rx="1.4" ry="2.4"/></g>
<g filter="url(#b05)">
<path d="M18.5 24 C18 17 18.5 10 21.5 7 C24.5 5.3 28.6 6.5 28.6 10 L28.6 23.5 C25 22.5 22 22.8 18.5 24 Z" fill="#060303"/>
<path d="M43.5 24 C44 17 43.5 10 40.5 7 C37.5 5.3 33.2 6.5 33.2 10 L33.2 23.5 C37 22.5 40 22.8 43.5 24 Z" fill="#060303"/>
</g>
<g filter="url(#ptex)">
<ellipse cx="23.5" cy="39" rx="3.2" ry="5" fill="#3e1612"/>
<ellipse cx="38.5" cy="39" rx="3.2" ry="5" fill="#3e1612"/>
<path d="M13 40 C12 32 13 24 17 21 C21 19 26 19.5 28.4 21 L28.4 36 C25 40 18 42 13 40 Z" fill="#7a2216"/>
<path d="M35.5 24 C38.5 21.8 44 22 46 25.5 C47 29 45.5 32 42.5 32 C41.5 30 40.5 27.5 38 26.5 C37 26 36 25.3 35.5 24 Z" fill="#4a1a12"/>
<path d="M22.5 47.5 C21.5 55 23 63 25 70.5 M39.5 47.5 C40.5 55 39 63 37 70.5" stroke="#e8701a" stroke-width="3" fill="none"/>
<path d="M23 48 C26 51.5 28.5 52.5 31 52.5 C33.5 52.5 36 51.5 39 48" stroke="#e8701a" stroke-width="2.10" fill="none" opacity="0.8"/>
<ellipse cx="31" cy="52.3" rx="3.8" ry="1.6" fill="#e8701a" opacity="0.9"/>
<path d="M22.3 50 C21.8 55 22.8 60 23.6 63 M39.7 50 C40.2 55 39.2 60 38.4 63" stroke="#f8c030" stroke-width="1.35" fill="none"/>
</g>
<line x1="31" y1="1.5" x2="31" y2="56" stroke="#e86a14" stroke-width="3.2" stroke-dasharray="1.1 1.0" filter="url(#b05)"/>
<line x1="31" y1="14" x2="31" y2="54" stroke="#f8d040" stroke-width="1.4" stroke-dasharray="1.1 1.0" filter="url(#b05)"/>
<path d="M17.5 25 C16.5 17 17.5 10 20.5 6.5 C23.5 4.5 27 5 29 7 M44.5 25 C45.5 17 44.5 10 41.5 6.5 C38.5 4.5 35 5 33 7" stroke="#e86a14" stroke-width="1.1" stroke-dasharray="0.8 1.2" fill="none" opacity="0.8" filter="url(#b03)"/>
<path d="M14 5.5 C17 4 20 5 22 6.5 M47 5.5 C44 4 41 5 39 6.5" stroke="#e86a14" stroke-width="1.2" fill="none" opacity="0.9" filter="url(#b05)"/>
<circle cx="31.7" cy="59.7" r="2" fill="#000" filter="url(#b03)"/>
</g>
<g transform="translate(250.8,143) scale(0.9738,1.0000)">
<rect x="0" y="0" width="61" height="74" fill="#030303"/>
<g filter="url(#btex)">
<path d="M22 1 C26 0.5 35 0.5 39 1 C43 2.2 48 2.8 52 4.5 C57 6.5 59.6 9.5 59.6 15 L59.6 40 C59.5 50 58.5 58 57 66 L52 67 L51.5 74 L9.5 74 L9 67 L4 66 C2.5 58 1.5 50 1.5 40 L1.5 15 C1.5 9.5 4 6.5 9 4.5 C13 2.8 18 2.2 22 1 Z" fill="#322c2c"/>
<path d="M15 14 C20 11 41 11 46 14 L47 72 L14 72 Z" fill="#2a2424"/>
<path d="M12.6 18 C12.3 35 12 50 11.5 74" stroke="#070505" stroke-width="2.2" fill="none"/>
<path d="M48.4 18 C48.7 35 49 50 49.5 74" stroke="#070505" stroke-width="2.2" fill="none"/>
</g>
<g filter="url(#b08)">
<path d="M6 19 L8 34" stroke="#6e6666" stroke-width="1.8" fill="none"/>
<path d="M55 19 L53 34" stroke="#6e6666" stroke-width="1.8" fill="none"/>
<path d="M4.5 44 L9 66" stroke="#5e5656" stroke-width="2.2" fill="none"/>
<path d="M56.5 44 L52 66" stroke="#5e5656" stroke-width="2.2" fill="none"/>
</g>
<g fill="#7a7272" filter="url(#b05)"><ellipse cx="7" cy="27" rx="1.4" ry="2.4"/><ellipse cx="54" cy="27" rx="1.4" ry="2.4"/></g>
<g filter="url(#b05)">
<path d="M18.5 24 C18 17 18.5 10 21.5 7 C24.5 5.3 28.6 6.5 28.6 10 L28.6 23.5 C25 22.5 22 22.8 18.5 24 Z" fill="#2a0a08"/>
<path d="M43.5 24 C44 17 43.5 10 40.5 7 C37.5 5.3 33.2 6.5 33.2 10 L33.2 23.5 C37 22.5 40 22.8 43.5 24 Z" fill="#2a0a08"/>
</g>
<g filter="url(#ptex)">
<ellipse cx="23.5" cy="39" rx="3.2" ry="5" fill="#461814"/>
<ellipse cx="38.5" cy="39" rx="3.2" ry="5" fill="#461814"/>
<path d="M16.5 37 C15 31 15.5 25.5 19 23.2 C22 22 26 22.3 28.4 23.5 L28.4 33 C25 36 20 38 16.5 37 Z" fill="#5a1c16"/>
<path d="M35.5 24 C38.5 21.8 44 22 46 25.5 C47 29 45.5 32 42.5 32 C41.5 30 40.5 27.5 38 26.5 C37 26 36 25.3 35.5 24 Z" fill="#4a1a14"/>
<path d="M22.5 47.5 C21.5 55 23 63 25 70.5 M39.5 47.5 C40.5 55 39 63 37 70.5" stroke="#761c12" stroke-width="2.2" fill="none"/>
<path d="M23 48 C26 51.5 28.5 52.5 31 52.5 C33.5 52.5 36 51.5 39 48" stroke="#761c12" stroke-width="1.54" fill="none" opacity="0.8"/>
<ellipse cx="31" cy="52.3" rx="3.8" ry="1.6" fill="#761c12" opacity="0.9"/>
</g>
<line x1="31" y1="1.5" x2="31" y2="56" stroke="#8a2016" stroke-width="2.6" stroke-dasharray="1.1 1.0" filter="url(#b05)"/>
<line x1="31" y1="30" x2="31" y2="48" stroke="#b0a0a0" stroke-width="1.4" stroke-dasharray="1.1 1.0" filter="url(#b05)"/>
<path d="M17.5 25 C16.5 17 17.5 10 20.5 6.5 C23.5 4.5 27 5 29 7 M44.5 25 C45.5 17 44.5 10 41.5 6.5 C38.5 4.5 35 5 33 7" stroke="#8a2016" stroke-width="1.1" stroke-dasharray="0.8 1.2" fill="none" opacity="0.5" filter="url(#b03)"/>
<path d="M14 5.5 C17 4 20 5 22 6.5 M47 5.5 C44 4 41 5 39 6.5" stroke="#8a2016" stroke-width="1.2" fill="none" opacity="0.5" filter="url(#b05)"/>
<circle cx="31.7" cy="59.7" r="2" fill="#000" filter="url(#b03)"/>
</g>
<g transform="translate(35.4,220.8) scale(1.1328,0.9955)">
<rect x="0" y="0" width="64" height="44" fill="#030303"/>
<g filter="url(#btex)">
<path d="M32.699999999999996 1.9 C54.8 1.9 62.8 6.9 62.8 20.8 C62.8 34.7 54.8 39.7 32.699999999999996 39.7 C10.6 39.7 2.6 34.7 2.6 20.8 C2.6 6.9 10.6 1.9 32.699999999999996 1.9 Z" fill="#3a3434"/>
<path d="M32.699999999999996 5.1 C51.599999999999994 5.1 59.599999999999994 10.1 59.599999999999994 20.8 C59.599999999999994 31.5 51.599999999999994 36.5 32.699999999999996 36.5 C13.8 36.5 5.800000000000001 31.5 5.800000000000001 20.8 C5.800000000000001 10.1 13.8 5.1 32.699999999999996 5.1 Z" fill="#2d2727"/>
</g>
<path d="M1 42.6 L63 42.6" stroke="#2a2a2a" stroke-width="0.6"/>
<g filter="url(#b08)">
<ellipse cx="17" cy="27.2" rx="3.8" ry="4" fill="#3a1814"/>
<ellipse cx="45.2" cy="27.6" rx="3.8" ry="4" fill="#3a1814"/>
<ellipse cx="31" cy="14" rx="16" ry="6" fill="#2a2222"/>
</g>
<g fill="#070505" filter="url(#b03)">
<circle cx="17" cy="7" r="1.3"/>
<circle cx="19.5" cy="8.5" r="1"/>
<circle cx="22" cy="6.5" r="1"/>
<circle cx="37" cy="6.5" r="1.3"/>
<circle cx="40" cy="8" r="1"/>
<circle cx="42.5" cy="7" r="1"/>
<circle cx="50.5" cy="12.5" r="1.2"/>
<circle cx="52" cy="14.5" r="0.9"/>
<circle cx="26" cy="9" r="0.8"/>
</g>
<g filter="url(#ptex)" opacity="0.45">
<path d="M32.699999999999996 5.4 C51.3 5.4 59.3 10.4 59.3 20.8 C59.3 31.200000000000003 51.3 36.2 32.699999999999996 36.2 C14.1 36.2 6.1 31.200000000000003 6.1 20.8 C6.1 10.4 14.1 5.4 32.699999999999996 5.4 Z" fill="#5a1812"/>
</g>
<g filter="url(#ptex)">
<ellipse cx="9.0" cy="22.7" rx="1.8" ry="3.5" fill="#c81c0c"/>
</g>
<g filter="url(#b05)">
<path d="M26.4 27.0 C26.4 22.5 34.0 22.5 34.0 27.0 L34.5 31.5 L32.2 32.0 L31.7 29.5 L28.7 29.5 L28.2 32.0 L25.9 31.5 Z" fill="#c8180a"/>
<ellipse cx="30.2" cy="26.0" rx="2.2" ry="1.8" fill="#e02a10"/>
<path d="M28.599999999999998 27.7 L30.2 29.1 L31.8 27.7 M30.2 29.1 L30.2 30.7" stroke="#c8c0c0" stroke-width="0.8" fill="none"/>
</g>
</g>
<g transform="translate(112.2,220.8) scale(0.9016,1.0000)">
<rect x="0" y="0" width="64" height="44" fill="#030303"/>
<g filter="url(#btex)">
<path d="M32.15 2.7 C53.8 2.7 61.8 7.7 61.8 21.6 C61.8 35.5 53.8 40.5 32.15 40.5 C10.5 40.5 2.5 35.5 2.5 21.6 C2.5 7.7 10.5 2.7 32.15 2.7 Z" fill="#3a3434"/>
<path d="M32.15 5.9 C50.599999999999994 5.9 58.599999999999994 10.9 58.599999999999994 21.599999999999998 C58.599999999999994 32.3 50.599999999999994 37.3 32.15 37.3 C13.7 37.3 5.7 32.3 5.7 21.599999999999998 C5.7 10.9 13.7 5.9 32.15 5.9 Z" fill="#2d2727"/>
</g>
<path d="M1 42.6 L63 42.6" stroke="#2a2a2a" stroke-width="0.6"/>
<g filter="url(#b08)">
<ellipse cx="19" cy="29" rx="3.8" ry="4" fill="#3a1814"/>
<ellipse cx="44" cy="29" rx="3.8" ry="4" fill="#3a1814"/>
</g>
<g fill="#070505" filter="url(#b03)">
<circle cx="14" cy="9" r="1"/>
<circle cx="24" cy="7.5" r="1.1"/>
<circle cx="30" cy="7" r="0.9"/>
<circle cx="38" cy="7" r="1"/>
<circle cx="45" cy="9" r="0.9"/>
</g>
<g filter="url(#ptex)" opacity="0.45">
<path d="M32.15 6.2 C50.3 6.2 58.3 11.2 58.3 21.6 C58.3 32.0 50.3 37.0 32.15 37.0 C14.0 37.0 6.0 32.0 6.0 21.6 C6.0 11.2 14.0 6.2 32.15 6.2 Z" fill="#5a1812"/>
</g>
<g filter="url(#ptex)">
<ellipse cx="12.4" cy="22.7" rx="3.8" ry="5.5" fill="#c82a0a"/>
<ellipse cx="12.4" cy="22" rx="2" ry="3" fill="#e04a10"/>
<ellipse cx="56" cy="26" rx="1.2" ry="2" fill="#901a0a"/>
</g>
<g filter="url(#b05)">
<path d="M27.5 31.0 C27.5 26.5 35.1 26.5 35.1 31.0 L35.6 35.5 L33.3 36.0 L32.8 33.5 L29.8 33.5 L29.3 36.0 L27.0 35.5 Z" fill="#e06010"/>
<ellipse cx="31.3" cy="30.0" rx="2.2" ry="1.8" fill="#ffe060"/>
</g>
</g>
<g transform="translate(177.2,220.8) scale(0.9922,0.9955)">
<rect x="0" y="0" width="64" height="44" fill="#030303"/>
<g filter="url(#btex)">
<path d="M32.35 1.9 C54.2 1.9 62.2 6.9 62.2 20.849999999999998 C62.2 34.8 54.2 39.8 32.35 39.8 C10.5 39.8 2.5 34.8 2.5 20.849999999999998 C2.5 6.9 10.5 1.9 32.35 1.9 Z" fill="#3a3434"/>
<path d="M32.35 5.1 C51.0 5.1 59.0 10.1 59.0 20.849999999999998 C59.0 31.599999999999994 51.0 36.599999999999994 32.35 36.599999999999994 C13.7 36.599999999999994 5.7 31.599999999999994 5.7 20.849999999999998 C5.7 10.1 13.7 5.1 32.35 5.1 Z" fill="#2d2727"/>
</g>
<path d="M1 42.6 L63 42.6" stroke="#2a2a2a" stroke-width="0.6"/>
<g filter="url(#b08)">
<ellipse cx="20" cy="28" rx="3.8" ry="4" fill="#361612"/>
<ellipse cx="44" cy="28" rx="3.8" ry="4" fill="#361612"/>
</g>
<g fill="#070505" filter="url(#b03)">
<circle cx="14" cy="10" r="1.2"/>
<circle cx="17" cy="8" r="1.2"/>
<circle cx="20" cy="12" r="1"/>
<circle cx="23" cy="7.5" r="1.1"/>
<circle cx="16" cy="14" r="1"/>
<circle cx="44" cy="11" r="0.9"/>
<circle cx="48" cy="14" r="0.8"/>
</g>
<g filter="url(#ptex)" opacity="0.45">
<path d="M32.35 5.4 C50.7 5.4 58.7 10.4 58.7 20.849999999999998 C58.7 31.299999999999997 50.7 36.3 32.35 36.3 C14.0 36.3 6.0 31.299999999999997 6.0 20.849999999999998 C6.0 10.4 14.0 5.4 32.35 5.4 Z" fill="#5a1812"/>
</g>
<g filter="url(#ptex)">
<ellipse cx="9.3" cy="24.2" rx="2.4" ry="3.5" fill="#d0300c"/>
<ellipse cx="58" cy="25" rx="1" ry="2" fill="#a02010"/>
</g>
<g filter="url(#b05)">
<path d="M28.099999999999998 28.5 C28.099999999999998 24 35.699999999999996 24 35.699999999999996 28.5 L36.199999999999996 33 L33.9 33.5 L33.4 31 L30.4 31 L29.9 33.5 L27.599999999999998 33 Z" fill="#f08a18"/>
<ellipse cx="31.9" cy="27.5" rx="2.2" ry="1.8" fill="#fff080"/>
</g>
</g>
<g transform="translate(247.9,220.5) scale(0.9906,0.9977)">
<rect x="0" y="0" width="64" height="44" fill="#030303"/>
<g filter="url(#btex)">
<path d="M31.349999999999998 1.5 C52.9 1.5 60.9 6.5 60.9 20.4 C60.9 34.3 52.9 39.3 31.349999999999998 39.3 C9.8 39.3 1.8 34.3 1.8 20.4 C1.8 6.5 9.8 1.5 31.349999999999998 1.5 Z" fill="#3a3434"/>
<path d="M31.349999999999998 4.7 C49.699999999999996 4.7 57.699999999999996 9.7 57.699999999999996 20.4 C57.699999999999996 31.099999999999994 49.699999999999996 36.099999999999994 31.349999999999998 36.099999999999994 C13.0 36.099999999999994 5.0 31.099999999999994 5.0 20.4 C5.0 9.7 13.0 4.7 31.349999999999998 4.7 Z" fill="#2d2727"/>
</g>
<path d="M1 42.6 L63 42.6" stroke="#2a2a2a" stroke-width="0.6"/>
<g filter="url(#b08)">
<ellipse cx="21" cy="21" rx="17" ry="15" fill="#4e1a16"/>
<ellipse cx="44" cy="26" rx="9" ry="9" fill="#401614"/>
<ellipse cx="44" cy="26" rx="6.5" ry="6.5" fill="#5a1a16"/>
</g>
<g fill="#070505" filter="url(#b03)">
</g>
<g filter="url(#ptex)" opacity="0.45">
<path d="M31.349999999999998 5.0 C49.4 5.0 57.4 10.0 57.4 20.4 C57.4 30.799999999999997 49.4 35.8 31.349999999999998 35.8 C13.3 35.8 5.3 30.799999999999997 5.3 20.4 C5.3 10.0 13.3 5.0 31.349999999999998 5.0 Z" fill="#5a1812"/>
</g>
<g filter="url(#ptex)">
<ellipse cx="46" cy="27" rx="8" ry="8" fill="#3a1210"/>
</g>
<g filter="url(#b05)">
<path d="M26.5 29.7 C26.5 25.2 34.1 25.2 34.1 29.7 L34.6 34.2 L32.3 34.7 L31.8 32.2 L28.8 32.2 L28.3 34.7 L26.0 34.2 Z" fill="#9a2014"/>
<ellipse cx="30.3" cy="28.7" rx="2.2" ry="1.8" fill="#c8a0a0"/>
</g>
</g>
<rect x="136.5" y="270" width="86" height="4" fill="url(#cb)"/>
<rect x="136.5" y="270" width="86" height="4" fill="none" stroke="#555" stroke-width="0.3"/>
<text x="130.8" y="275" font-size="6.4" text-anchor="middle" font-weight="normal" fill="#222" stroke="#222" stroke-width="0.12" >0</text>
<text x="226" y="275" font-size="6.4" text-anchor="start" font-weight="normal" fill="#222" stroke="#222" stroke-width="0.12" >40</text>
<text x="179.5" y="283.2" font-size="6.4" text-anchor="middle" font-weight="normal" fill="#222" stroke="#222" stroke-width="0.12" >SUV</text>
<text x="327.7" y="17.7" font-size="12" text-anchor="start" font-weight="bold" fill="#111" >B</text>
<g stroke="#111" stroke-width="1.1" fill="none">
<line x1="371.5" y1="25" x2="371.5" y2="106.4"/>
<line x1="371" y1="105.9" x2="489.3" y2="105.9"/>
<line x1="368.5" y1="105.90" x2="371.5" y2="105.90"/>
<line x1="368.5" y1="86.42" x2="371.5" y2="86.42"/>
<line x1="368.5" y1="66.94" x2="371.5" y2="66.94"/>
<line x1="368.5" y1="47.46" x2="371.5" y2="47.46"/>
<line x1="368.5" y1="27.98" x2="371.5" y2="27.98"/>
<line x1="390" y1="105.9" x2="390" y2="108.6"/>
<line x1="430" y1="105.9" x2="430" y2="108.6"/>
<line x1="470.4" y1="105.9" x2="470.4" y2="108.6"/>
</g>
<text x="365.8" y="108.2" font-size="6.5" text-anchor="end" font-weight="normal" fill="#222" stroke="#222" stroke-width="0.12" >0</text>
<text x="365.8" y="88.72" font-size="6.5" text-anchor="end" font-weight="normal" fill="#222" stroke="#222" stroke-width="0.12" >20</text>
<text x="365.8" y="69.24" font-size="6.5" text-anchor="end" font-weight="normal" fill="#222" stroke="#222" stroke-width="0.12" >40</text>
<text x="365.8" y="49.760000000000005" font-size="6.5" text-anchor="end" font-weight="normal" fill="#222" stroke="#222" stroke-width="0.12" >60</text>
<text x="365.8" y="30.280000000000005" font-size="6.5" text-anchor="end" font-weight="normal" fill="#222" stroke="#222" stroke-width="0.12" >80</text>
<text x="0" y="0" font-size="7.7" fill="#1a1a1a" stroke="#1a1a1a" stroke-width="0.2" text-anchor="middle" transform="translate(351.1,65.5) rotate(-90) scale(0.74,1)">SUVmean</text>
<text x="389.6" y="118.8" font-size="6.35" text-anchor="middle" font-weight="normal" fill="#222" stroke="#222" stroke-width="0.12" >Liver</text>
<text x="430" y="118.8" font-size="6.35" text-anchor="middle" font-weight="normal" fill="#222" stroke="#222" stroke-width="0.12" >Spleen</text>
<text x="470.4" y="118.8" font-size="6.4" text-anchor="middle" font-weight="normal" fill="#222" stroke="#222" stroke-width="0.12" >Bone Marrow</text>
<text x="372.9" y="34.5" font-size="6.45" text-anchor="start" font-weight="normal" fill="#222" stroke="#222" stroke-width="0.12" >****p&lt;0.0001</text>
<text x="377.3" y="43.5" font-size="6.5" text-anchor="start" font-weight="normal" fill="#222" stroke="#222" stroke-width="0.12" >**p&lt;0.005</text>
<text x="381.2" y="52.6" font-size="6.3" text-anchor="start" font-weight="normal" fill="#222" stroke="#222" stroke-width="0.12" >*p&lt;0.05</text>
<rect x="374.80" y="91.70" width="4.20" height="13.70" fill="none" stroke="#5a78b8" stroke-width="1"/>
<rect x="383.50" y="95.60" width="4.20" height="9.80" fill="none" stroke="#6cbd5c" stroke-width="1"/>
<rect x="392.10" y="99.60" width="4.20" height="5.80" fill="none" stroke="#8c94a8" stroke-width="1"/>
<rect x="400.60" y="100.60" width="4.20" height="4.80" fill="none" stroke="#eea030" stroke-width="1"/>
<rect x="415.10" y="57.60" width="4.20" height="47.80" fill="none" stroke="#5a78b8" stroke-width="1"/>
<line x1="417.20" y1="37" x2="417.20" y2="57.6" stroke="#5a78b8" stroke-width="0.7"/>
<line x1="416.20" y1="37" x2="418.20" y2="37" stroke="#5a78b8" stroke-width="0.7"/>
<rect x="423.80" y="80.60" width="4.20" height="24.80" fill="none" stroke="#6cbd5c" stroke-width="1"/>
<rect x="432.40" y="97.20" width="4.20" height="8.20" fill="none" stroke="#8c94a8" stroke-width="1"/>
<rect x="441.10" y="101.40" width="4.20" height="4.00" fill="none" stroke="#eea030" stroke-width="1"/>
<rect x="454.90" y="94.20" width="4.20" height="11.20" fill="none" stroke="#7c78c8" stroke-width="1"/>
<rect x="463.90" y="86.70" width="4.20" height="18.70" fill="none" stroke="#6cbd5c" stroke-width="1"/>
<rect x="472.40" y="73.10" width="4.20" height="32.30" fill="none" stroke="#8c94a8" stroke-width="1"/>
<line x1="474.50" y1="63" x2="474.50" y2="73.1" stroke="#8c94a8" stroke-width="0.7"/>
<line x1="473.50" y1="63" x2="475.50" y2="63" stroke="#8c94a8" stroke-width="0.7"/>
<rect x="481.10" y="98.50" width="4.20" height="6.90" fill="none" stroke="#eea030" stroke-width="1"/>
<rect x="416.1" y="58.2" width="2.2" height="17" fill="none" stroke="#8fa3cf" stroke-width="0.5"/>
<circle cx="375.9" cy="91" r="1.4" fill="#0a0a0a"/>
<circle cx="378.5" cy="88.6" r="1.4" fill="#0a0a0a"/>
<circle cx="377" cy="94.9" r="1.4" fill="#0a0a0a"/>
<circle cx="385.8" cy="91.4" r="1.4" fill="#0a0a0a"/>
<circle cx="385" cy="97.5" r="1.4" fill="#0a0a0a"/>
<circle cx="387.5" cy="97" r="1.4" fill="#0a0a0a"/>
<circle cx="393.5" cy="100.5" r="1.4" fill="#0a0a0a"/>
<circle cx="396" cy="99.5" r="1.4" fill="#0a0a0a"/>
<circle cx="393.3" cy="103" r="1.4" fill="#0a0a0a"/>
<circle cx="401.8" cy="100.2" r="1.4" fill="#0a0a0a"/>
<circle cx="404" cy="101.7" r="1.4" fill="#0a0a0a"/>
<circle cx="402" cy="104" r="1.4" fill="#0a0a0a"/>
<circle cx="417.2" cy="36.9" r="1.4" fill="#0a0a0a"/>
<circle cx="417" cy="60.5" r="1.4" fill="#0a0a0a"/>
<circle cx="417" cy="73.7" r="1.4" fill="#0a0a0a"/>
<circle cx="425.9" cy="75.9" r="1.4" fill="#0a0a0a"/>
<circle cx="426.5" cy="82" r="1.4" fill="#0a0a0a"/>
<circle cx="428" cy="81" r="1.4" fill="#0a0a0a"/>
<circle cx="434" cy="97" r="1.4" fill="#0a0a0a"/>
<circle cx="435.7" cy="94.6" r="1.4" fill="#0a0a0a"/>
<circle cx="433" cy="100.5" r="1.4" fill="#0a0a0a"/>
<circle cx="443" cy="100.5" r="1.4" fill="#0a0a0a"/>
<circle cx="444.5" cy="99.5" r="1.4" fill="#0a0a0a"/>
<circle cx="442.5" cy="102" r="1.4" fill="#0a0a0a"/>
<circle cx="457" cy="90.6" r="1.4" fill="#0a0a0a"/>
<circle cx="456" cy="94" r="1.4" fill="#0a0a0a"/>
<circle cx="458" cy="94" r="1.4" fill="#0a0a0a"/>
<circle cx="465.7" cy="83.5" r="1.4" fill="#0a0a0a"/>
<circle cx="467" cy="86.5" r="1.4" fill="#0a0a0a"/>
<circle cx="465" cy="89" r="1.4" fill="#0a0a0a"/>
<circle cx="474.6" cy="65.7" r="1.4" fill="#0a0a0a"/>
<circle cx="474.6" cy="79" r="1.4" fill="#0a0a0a"/>
<circle cx="483.5" cy="98" r="1.4" fill="#0a0a0a"/>
<circle cx="482.5" cy="103.7" r="1.4" fill="#0a0a0a"/>
<circle cx="484" cy="97.5" r="1.4" fill="#0a0a0a"/>
<g stroke="#333" stroke-width="0.85">
<line x1="415.6" y1="24.6" x2="441.7" y2="24.6"/>
<line x1="415.6" y1="28.8" x2="433.6" y2="28.8"/>
<line x1="415.6" y1="32.9" x2="430" y2="32.9" stroke="#666"/>
<line x1="424.8" y1="66.7" x2="443" y2="66.7"/>
<line x1="424.8" y1="70.7" x2="436.3" y2="70.7" stroke="#666"/>
</g>
<g stroke="#333" stroke-width="0.45" stroke-linecap="round"><line x1="420.60" y1="22.40" x2="421.80" y2="22.40"/><line x1="420.90" y1="21.85" x2="421.50" y2="22.95"/><line x1="421.50" y1="21.85" x2="420.90" y2="22.95"/></g>
<g stroke="#333" stroke-width="0.45" stroke-linecap="round"><line x1="423.10" y1="22.40" x2="424.30" y2="22.40"/><line x1="423.40" y1="21.85" x2="424.00" y2="22.95"/><line x1="424.00" y1="21.85" x2="423.40" y2="22.95"/></g>
<g stroke="#333" stroke-width="0.45" stroke-linecap="round"><line x1="425.60" y1="22.40" x2="426.80" y2="22.40"/><line x1="425.90" y1="21.85" x2="426.50" y2="22.95"/><line x1="426.50" y1="21.85" x2="425.90" y2="22.95"/></g>
<g stroke="#333" stroke-width="0.45" stroke-linecap="round"><line x1="428.10" y1="22.40" x2="429.30" y2="22.40"/><line x1="428.40" y1="21.85" x2="429.00" y2="22.95"/><line x1="429.00" y1="21.85" x2="428.40" y2="22.95"/></g>
<g stroke="#333" stroke-width="0.45" stroke-linecap="round"><line x1="420.60" y1="26.70" x2="421.80" y2="26.70"/><line x1="420.90" y1="26.15" x2="421.50" y2="27.25"/><line x1="421.50" y1="26.15" x2="420.90" y2="27.25"/></g>
<g stroke="#333" stroke-width="0.45" stroke-linecap="round"><line x1="423.10" y1="26.70" x2="424.30" y2="26.70"/><line x1="423.40" y1="26.15" x2="424.00" y2="27.25"/><line x1="424.00" y1="26.15" x2="423.40" y2="27.25"/></g>
<g stroke="#333" stroke-width="0.45" stroke-linecap="round"><line x1="425.60" y1="26.70" x2="426.80" y2="26.70"/><line x1="425.90" y1="26.15" x2="426.50" y2="27.25"/><line x1="426.50" y1="26.15" x2="425.90" y2="27.25"/></g>
<g stroke="#333" stroke-width="0.45" stroke-linecap="round"><line x1="428.10" y1="26.70" x2="429.30" y2="26.70"/><line x1="428.40" y1="26.15" x2="429.00" y2="27.25"/><line x1="429.00" y1="26.15" x2="428.40" y2="27.25"/></g>
<g stroke="#333" stroke-width="0.45" stroke-linecap="round"><line x1="420.95" y1="30.80" x2="422.15" y2="30.80"/><line x1="421.25" y1="30.25" x2="421.85" y2="31.35"/><line x1="421.85" y1="30.25" x2="421.25" y2="31.35"/></g>
<g stroke="#333" stroke-width="0.45" stroke-linecap="round"><line x1="423.45" y1="30.80" x2="424.65" y2="30.80"/><line x1="423.75" y1="30.25" x2="424.35" y2="31.35"/><line x1="424.35" y1="30.25" x2="423.75" y2="31.35"/></g>
<g stroke="#333" stroke-width="0.45" stroke-linecap="round"><line x1="430.05" y1="64.50" x2="431.25" y2="64.50"/><line x1="430.35" y1="63.95" x2="430.95" y2="65.05"/><line x1="430.95" y1="63.95" x2="430.35" y2="65.05"/></g>
<g stroke="#333" stroke-width="0.45" stroke-linecap="round"><line x1="432.55" y1="64.50" x2="433.75" y2="64.50"/><line x1="432.85" y1="63.95" x2="433.45" y2="65.05"/><line x1="433.45" y1="63.95" x2="432.85" y2="65.05"/></g>
<g stroke="#333" stroke-width="0.45" stroke-linecap="round"><line x1="429.80" y1="68.60" x2="431.00" y2="68.60"/><line x1="430.10" y1="68.05" x2="430.70" y2="69.15"/><line x1="430.70" y1="68.05" x2="430.10" y2="69.15"/></g>
<rect x="459.3" y="25.90" width="10.9" height="4.7" rx="0.6" fill="none" stroke="#4a64a8" stroke-width="1"/>
<text x="473.2" y="30.6" font-size="6.5" text-anchor="start" font-weight="normal" fill="#222" stroke="#222" stroke-width="0.12" >Cohort 0 mg</text>
<rect x="459.3" y="34.35" width="10.9" height="4.7" rx="0.6" fill="none" stroke="#3aa860" stroke-width="1"/>
<text x="473.2" y="39.050000000000004" font-size="6.5" text-anchor="start" font-weight="normal" fill="#222" stroke="#222" stroke-width="0.12" >Cohort 10 mg</text>
<rect x="459.3" y="42.80" width="10.9" height="4.7" rx="0.6" fill="none" stroke="#333" stroke-width="1"/>
<text x="473.2" y="47.5" font-size="6.5" text-anchor="start" font-weight="normal" fill="#222" stroke="#222" stroke-width="0.12" >Cohort 45 mg</text>
<rect x="459.3" y="51.25" width="10.9" height="4.7" rx="0.6" fill="none" stroke="#d0a030" stroke-width="1"/>
<text x="473.2" y="55.949999999999996" font-size="6.5" text-anchor="start" font-weight="normal" fill="#222" stroke="#222" stroke-width="0.12" >Cohort 95 mg</text>
<text x="327.6" y="146.2" font-size="12" text-anchor="start" font-weight="bold" fill="#111" >C</text>
<g stroke="#111" stroke-width="1.1" fill="none">
<line x1="371.2" y1="151" x2="371.2" y2="215.4"/>
<line x1="370.7" y1="214.9" x2="482.3" y2="214.9"/>
<line x1="368.2" y1="214.90" x2="371.2" y2="214.90"/>
<line x1="368.2" y1="194.17" x2="371.2" y2="194.17"/>
<line x1="368.2" y1="173.43" x2="371.2" y2="173.43"/>
<line x1="368.2" y1="152.70" x2="371.2" y2="152.70"/>
<line x1="371.2" y1="223.5" x2="371.2" y2="287.2"/>
<line x1="370.7" y1="286.7" x2="482.3" y2="286.7"/>
<line x1="368.2" y1="286.70" x2="371.2" y2="286.70"/>
<line x1="368.2" y1="271.60" x2="371.2" y2="271.60"/>
<line x1="368.2" y1="256.50" x2="371.2" y2="256.50"/>
<line x1="368.2" y1="241.40" x2="371.2" y2="241.40"/>
<line x1="368.2" y1="226.30" x2="371.2" y2="226.30"/>
<line x1="388.5" y1="214.9" x2="388.5" y2="217.5"/>
<line x1="388.5" y1="286.7" x2="388.5" y2="289.3"/>
<line x1="414" y1="214.9" x2="414" y2="217.5"/>
<line x1="414" y1="286.7" x2="414" y2="289.3"/>
<line x1="439.8" y1="214.9" x2="439.8" y2="217.5"/>
<line x1="439.8" y1="286.7" x2="439.8" y2="289.3"/>
<line x1="465.3" y1="214.9" x2="465.3" y2="217.5"/>
<line x1="465.3" y1="286.7" x2="465.3" y2="289.3"/>
</g>
<text x="365.3" y="217.20000000000002" font-size="6.5" text-anchor="end" font-weight="normal" fill="#222" stroke="#222" stroke-width="0.12" >0</text>
<text x="365.3" y="196.46666666666667" font-size="6.5" text-anchor="end" font-weight="normal" fill="#222" stroke="#222" stroke-width="0.12" >50</text>
<text x="365.3" y="175.73333333333335" font-size="6.5" text-anchor="end" font-weight="normal" fill="#222" stroke="#222" stroke-width="0.12" >100</text>
<text x="365.3" y="155.0" font-size="6.5" text-anchor="end" font-weight="normal" fill="#222" stroke="#222" stroke-width="0.12" >150</text>
<text x="365.3" y="289.0" font-size="6.5" text-anchor="end" font-weight="normal" fill="#222" stroke="#222" stroke-width="0.12" >0</text>
<text x="365.3" y="273.90000000000003" font-size="6.5" text-anchor="end" font-weight="normal" fill="#222" stroke="#222" stroke-width="0.12" >20</text>
<text x="365.3" y="258.8" font-size="6.5" text-anchor="end" font-weight="normal" fill="#222" stroke="#222" stroke-width="0.12" >40</text>
<text x="365.3" y="243.70000000000002" font-size="6.5" text-anchor="end" font-weight="normal" fill="#222" stroke="#222" stroke-width="0.12" >60</text>
<text x="365.3" y="228.60000000000002" font-size="6.5" text-anchor="end" font-weight="normal" fill="#222" stroke="#222" stroke-width="0.12" >80</text>
<text x="352.2" y="299.5" font-size="6.4" text-anchor="start" font-weight="normal" fill="#222" stroke="#222" stroke-width="0.12" >Cohort</text>
<text x="388.3" y="299.5" font-size="6.5" text-anchor="middle" font-weight="normal" fill="#222" stroke="#222" stroke-width="0.12" >0</text>
<text x="414.2" y="299.5" font-size="6.5" text-anchor="middle" font-weight="normal" fill="#222" stroke="#222" stroke-width="0.12" >10</text>
<text x="439.3" y="299.5" font-size="6.5" text-anchor="middle" font-weight="normal" fill="#222" stroke="#222" stroke-width="0.12" >45</text>
<text x="465.3" y="299.5" font-size="6.5" text-anchor="middle" font-weight="normal" fill="#222" stroke="#222" stroke-width="0.12" >95</text>
<line x1="340" y1="163" x2="340" y2="289.5" stroke="#c4506e" stroke-width="1.6"/>
<path d="M340 158.6 L343 164.5 L337 164.5 Z" fill="#b0103c"/>
<line x1="351.3" y1="304.3" x2="481" y2="304.3" stroke="#c4506e" stroke-width="1.6"/>
<path d="M485.8 304.3 L479.8 301.3 L479.8 307.3 Z" fill="#b0103c"/>
<text x="0" y="0" font-size="9" fill="#1a1a1a" stroke="#1a1a1a" stroke-width="0.18" text-anchor="middle" transform="translate(427.2,314.8) scale(0.68,1)">Unlabeled daratumumab (mg)</text>
<text x="0" y="0" font-size="7.5" fill="#1a1a1a" stroke="#1a1a1a" stroke-width="0.25" text-anchor="start" transform="translate(333.3,273) rotate(-90) scale(0.8,1)">Cu<tspan font-size="4.5" dy="-2.5">64</tspan><tspan dy="2.5">-daratumumab in whole blood (%)</tspan></text>
<text x="0" y="0" font-size="6.3" fill="#222" text-anchor="middle" transform="translate(348.4,183.3) rotate(-90)">1-3 hours</text>
<text x="0" y="0" font-size="6.2" fill="#222" text-anchor="middle" transform="translate(348.2,256.5) rotate(-90)">25-27 hours</text>
<circle cx="380.6" cy="152.3" r="1.3" fill="#1d3f8c"/>
<text x="385.3" y="154.6" font-size="6.7" text-anchor="start" font-weight="normal" fill="#222" stroke="#222" stroke-width="0.12" >MM pts</text>
<circle cx="421.9" cy="152.3" r="1.3" fill="#b5123a"/>
<text x="426.8" y="154.6" font-size="6.4" text-anchor="start" font-weight="normal" fill="#222" stroke="#222" stroke-width="0.12" textLength="40.5" lengthAdjust="spacingAndGlyphs">Plasmacytoma</text>
<g stroke="#555" stroke-width="0.9">
<line x1="389.3" y1="170.1" x2="459.6" y2="170.1"/>
<line x1="386" y1="225.4" x2="462.6" y2="225.4"/>
<line x1="412.5" y1="229.3" x2="462.6" y2="229.3"/>
<line x1="439.8" y1="233.5" x2="462.6" y2="233.5"/>
</g>
<g stroke="#333" stroke-width="0.45" stroke-linecap="round"><line x1="422.00" y1="168.30" x2="423.20" y2="168.30"/><line x1="422.30" y1="167.75" x2="422.90" y2="168.85"/><line x1="422.90" y1="167.75" x2="422.30" y2="168.85"/></g>
<g stroke="#333" stroke-width="0.45" stroke-linecap="round"><line x1="428.65" y1="223.50" x2="429.85" y2="223.50"/><line x1="428.95" y1="222.95" x2="429.55" y2="224.05"/><line x1="429.55" y1="222.95" x2="428.95" y2="224.05"/></g>
<g stroke="#333" stroke-width="0.45" stroke-linecap="round"><line x1="431.15" y1="223.50" x2="432.35" y2="223.50"/><line x1="431.45" y1="222.95" x2="432.05" y2="224.05"/><line x1="432.05" y1="222.95" x2="431.45" y2="224.05"/></g>
<g stroke="#333" stroke-width="0.45" stroke-linecap="round"><line x1="428.65" y1="227.40" x2="429.85" y2="227.40"/><line x1="428.95" y1="226.85" x2="429.55" y2="227.95"/><line x1="429.55" y1="226.85" x2="428.95" y2="227.95"/></g>
<g stroke="#333" stroke-width="0.45" stroke-linecap="round"><line x1="431.15" y1="227.40" x2="432.35" y2="227.40"/><line x1="431.45" y1="226.85" x2="432.05" y2="227.95"/><line x1="432.05" y1="226.85" x2="431.45" y2="227.95"/></g>
<g stroke="#333" stroke-width="0.45" stroke-linecap="round"><line x1="449.60" y1="231.70" x2="450.80" y2="231.70"/><line x1="449.90" y1="231.15" x2="450.50" y2="232.25"/><line x1="450.50" y1="231.15" x2="449.90" y2="232.25"/></g>
<text x="468.3" y="194.2" font-size="6.4" text-anchor="start" font-weight="normal" fill="#222" stroke="#222" stroke-width="0.12" >*p&lt;0.05</text>
<text x="462.8" y="202.1" font-size="6.7" text-anchor="start" font-weight="normal" fill="#222" stroke="#222" stroke-width="0.12" >* * p=0.005</text>
<ellipse cx="385.4" cy="209.1" rx="1.55" ry="1.35" fill="#1d3f8c"/>
<ellipse cx="391.4" cy="207.9" rx="1.55" ry="1.35" fill="#1d3f8c"/>
<ellipse cx="388.4" cy="211.8" rx="1.55" ry="1.35" fill="#1d3f8c"/>
<ellipse cx="414.1" cy="191.6" rx="1.55" ry="1.35" fill="#1d3f8c"/>
<ellipse cx="414.1" cy="202.9" rx="1.55" ry="1.35" fill="#1d3f8c"/>
<ellipse cx="414.1" cy="205.9" rx="1.55" ry="1.35" fill="#1d3f8c"/>
<ellipse cx="439.6" cy="195.1" rx="1.55" ry="1.35" fill="#1d3f8c"/>
<ellipse cx="439.6" cy="212" rx="1.55" ry="1.35" fill="#1d3f8c"/>
<ellipse cx="462" cy="176" rx="1.55" ry="1.35" fill="#1d3f8c"/>
<ellipse cx="468.3" cy="173.3" rx="1.55" ry="1.35" fill="#1d3f8c"/>
<ellipse cx="465.3" cy="180.5" rx="1.55" ry="1.35" fill="#1d3f8c"/>
<ellipse cx="388.6" cy="279.8" rx="1.55" ry="1.35" fill="#1d3f8c"/>
<ellipse cx="391.7" cy="283.3" rx="1.55" ry="1.35" fill="#1d3f8c"/>
<ellipse cx="385.6" cy="285.7" rx="1.55" ry="1.35" fill="#1d3f8c"/>
<ellipse cx="407.1" cy="284.2" rx="1.55" ry="1.35" fill="#1d3f8c"/>
<ellipse cx="414.2" cy="282" rx="1.55" ry="1.35" fill="#1d3f8c"/>
<ellipse cx="421.4" cy="283.7" rx="1.55" ry="1.35" fill="#1d3f8c"/>
<ellipse cx="439.6" cy="282.3" rx="1.55" ry="1.35" fill="#1d3f8c"/>
<ellipse cx="439.6" cy="286.2" rx="1.55" ry="1.35" fill="#1d3f8c"/>
<ellipse cx="465.5" cy="234" rx="1.55" ry="1.35" fill="#1d3f8c"/>
<ellipse cx="465.5" cy="237.5" rx="1.55" ry="1.35" fill="#1d3f8c"/>
<ellipse cx="465.5" cy="244.5" rx="1.55" ry="1.35" fill="#1d3f8c"/>
<ellipse cx="439.6" cy="173.9" rx="1.55" ry="1.35" fill="#b5123a"/>
<ellipse cx="439.6" cy="247.8" rx="1.55" ry="1.35" fill="#b5123a"/>
<g stroke="#0a0a0a" stroke-width="1.2">
<line x1="380" y1="209.2" x2="396.7" y2="209.2"/>
<line x1="405.6" y1="203.4" x2="422.7" y2="203.4"/>
<line x1="431.3" y1="195.1" x2="448" y2="195.1"/>
<line x1="457.2" y1="176" x2="474" y2="176"/>
<line x1="380" y1="283.4" x2="396.9" y2="283.4"/>
<line x1="405.7" y1="283.8" x2="422.8" y2="283.8"/>
<line x1="431.2" y1="282.4" x2="448.5" y2="282.4"/>
<line x1="457.2" y1="237.2" x2="474" y2="237.2"/>
</g>
<rect x="0" y="0" width="520" height="1.2" fill="#000"/>
<rect x="0" y="0" width="1.2" height="324" fill="#000"/>
<rect x="518.4" y="0" width="1.6" height="324" fill="#000"/>
<rect x="0" y="322.6" width="520" height="1.4" fill="#000"/>
</svg></body></html>
